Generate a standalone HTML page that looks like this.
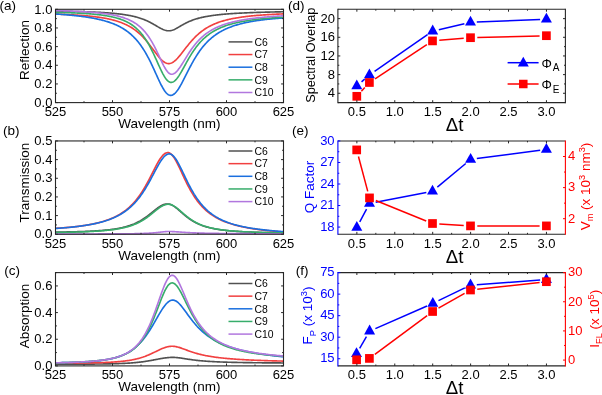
<!DOCTYPE html>
<html><head><meta charset="utf-8"><style>
html,body{margin:0;padding:0;background:#fff;}
svg{display:block;font-family:'Liberation Sans',sans-serif;will-change:transform;}
</style></head><body>
<svg width="602" height="395" viewBox="0 0 602 395" style="font-family:'Liberation Sans',sans-serif">
<rect width="602" height="395" fill="#fff"/>
<clipPath id="clipa"><rect x="55.5" y="8.3" width="228.0" height="95.3"/></clipPath>
<g clip-path="url(#clipa)" fill="none" stroke-width="1.65" stroke-linejoin="round">
<polyline points="55.50,11.12 56.26,11.13 57.03,11.15 57.79,11.16 58.55,11.17 59.31,11.18 60.08,11.19 60.84,11.21 61.60,11.22 62.36,11.23 63.13,11.25 63.89,11.26 64.65,11.27 65.41,11.29 66.18,11.30 66.94,11.32 67.70,11.33 68.46,11.35 69.23,11.36 69.99,11.38 70.75,11.39 71.51,11.41 72.28,11.43 73.04,11.45 73.80,11.46 74.56,11.48 75.33,11.50 76.09,11.52 76.85,11.54 77.61,11.56 78.38,11.58 79.14,11.60 79.90,11.62 80.66,11.64 81.43,11.66 82.19,11.69 82.95,11.71 83.71,11.73 84.48,11.76 85.24,11.78 86.00,11.81 86.76,11.83 87.53,11.86 88.29,11.89 89.05,11.92 89.81,11.94 90.58,11.97 91.34,12.00 92.10,12.04 92.86,12.07 93.63,12.10 94.39,12.13 95.15,12.17 95.91,12.20 96.68,12.24 97.44,12.28 98.20,12.31 98.96,12.35 99.73,12.39 100.49,12.43 101.25,12.48 102.02,12.52 102.78,12.57 103.54,12.61 104.30,12.66 105.07,12.71 105.83,12.76 106.59,12.81 107.35,12.86 108.12,12.92 108.88,12.98 109.64,13.03 110.40,13.10 111.17,13.16 111.93,13.22 112.69,13.29 113.45,13.36 114.22,13.43 114.98,13.50 115.74,13.58 116.50,13.65 117.27,13.73 118.03,13.82 118.79,13.90 119.55,13.99 120.32,14.08 121.08,14.18 121.84,14.28 122.60,14.38 123.37,14.49 124.13,14.60 124.89,14.71 125.65,14.83 126.42,14.95 127.18,15.08 127.94,15.21 128.70,15.35 129.47,15.49 130.23,15.64 130.99,15.79 131.75,15.95 132.52,16.12 133.28,16.29 134.04,16.47 134.80,16.65 135.57,16.85 136.33,17.05 137.09,17.26 137.85,17.48 138.62,17.70 139.38,17.94 140.14,18.18 140.90,18.44 141.67,18.70 142.43,18.98 143.19,19.26 143.95,19.56 144.72,19.86 145.48,20.18 146.24,20.51 147.01,20.86 147.77,21.21 148.53,21.58 149.29,21.95 150.06,22.34 150.82,22.74 151.58,23.15 152.34,23.57 153.11,24.00 153.87,24.43 154.63,24.87 155.39,25.32 156.16,25.77 156.92,26.22 157.68,26.66 158.44,27.11 159.21,27.54 159.97,27.96 160.73,28.37 161.49,28.76 162.26,29.12 163.02,29.46 163.78,29.77 164.54,30.04 165.31,30.28 166.07,30.47 166.83,30.62 167.59,30.73 168.36,30.79 169.12,30.80 169.88,30.75 170.64,30.65 171.41,30.49 172.17,30.29 172.93,30.03 173.69,29.73 174.46,29.40 175.22,29.04 175.98,28.64 176.74,28.23 177.51,27.80 178.27,27.36 179.03,26.91 179.79,26.46 180.56,26.01 181.32,25.57 182.08,25.13 182.84,24.69 183.61,24.27 184.37,23.85 185.13,23.45 185.89,23.06 186.66,22.68 187.42,22.31 188.18,21.95 188.94,21.61 189.71,21.28 190.47,20.96 191.23,20.66 191.99,20.36 192.76,20.08 193.52,19.81 194.28,19.54 195.05,19.29 195.81,19.05 196.57,18.82 197.33,18.59 198.10,18.38 198.86,18.17 199.62,17.97 200.38,17.78 201.15,17.60 201.91,17.42 202.67,17.25 203.43,17.08 204.20,16.93 204.96,16.77 205.72,16.63 206.48,16.48 207.25,16.35 208.01,16.21 208.77,16.09 209.53,15.96 210.30,15.84 211.06,15.73 211.82,15.62 212.58,15.51 213.35,15.40 214.11,15.30 214.87,15.20 215.63,15.11 216.40,15.02 217.16,14.93 217.92,14.84 218.68,14.76 219.45,14.67 220.21,14.60 220.97,14.52 221.73,14.44 222.50,14.37 223.26,14.30 224.02,14.23 224.78,14.17 225.55,14.10 226.31,14.04 227.07,13.98 227.83,13.92 228.60,13.86 229.36,13.80 230.12,13.75 230.88,13.69 231.65,13.64 232.41,13.59 233.17,13.54 233.93,13.49 234.70,13.44 235.46,13.39 236.22,13.35 236.98,13.30 237.75,13.26 238.51,13.22 239.27,13.18 240.04,13.14 240.80,13.10 241.56,13.06 242.32,13.02 243.09,12.98 243.85,12.95 244.61,12.91 245.37,12.88 246.14,12.84 246.90,12.81 247.66,12.78 248.42,12.74 249.19,12.71 249.95,12.68 250.71,12.65 251.47,12.62 252.24,12.59 253.00,12.57 253.76,12.54 254.52,12.51 255.29,12.48 256.05,12.46 256.81,12.43 257.57,12.41 258.34,12.38 259.10,12.36 259.86,12.33 260.62,12.31 261.39,12.29 262.15,12.26 262.91,12.24 263.67,12.22 264.44,12.20 265.20,12.18 265.96,12.16 266.72,12.14 267.49,12.12 268.25,12.10 269.01,12.08 269.77,12.06 270.54,12.04 271.30,12.02 272.06,12.00 272.82,11.98 273.59,11.97 274.35,11.95 275.11,11.93 275.87,11.92 276.64,11.90 277.40,11.88 278.16,11.87 278.92,11.85 279.69,11.84 280.45,11.82 281.21,11.80 281.97,11.79 282.74,11.78 283.50,11.76" stroke="#515151"/>
<polyline points="55.50,14.08 56.26,14.11 57.03,14.13 57.79,14.16 58.55,14.19 59.31,14.22 60.08,14.25 60.84,14.28 61.60,14.31 62.36,14.34 63.13,14.37 63.89,14.40 64.65,14.44 65.41,14.47 66.18,14.51 66.94,14.54 67.70,14.58 68.46,14.62 69.23,14.66 69.99,14.70 70.75,14.74 71.51,14.78 72.28,14.82 73.04,14.86 73.80,14.91 74.56,14.95 75.33,15.00 76.09,15.05 76.85,15.10 77.61,15.15 78.38,15.20 79.14,15.25 79.90,15.31 80.66,15.36 81.43,15.42 82.19,15.48 82.95,15.54 83.71,15.60 84.48,15.66 85.24,15.73 86.00,15.80 86.76,15.86 87.53,15.94 88.29,16.01 89.05,16.08 89.81,16.16 90.58,16.24 91.34,16.32 92.10,16.40 92.86,16.49 93.63,16.58 94.39,16.67 95.15,16.76 95.91,16.86 96.68,16.96 97.44,17.06 98.20,17.17 98.96,17.27 99.73,17.39 100.49,17.50 101.25,17.62 102.02,17.74 102.78,17.87 103.54,18.00 104.30,18.13 105.07,18.27 105.83,18.42 106.59,18.56 107.35,18.72 108.12,18.87 108.88,19.04 109.64,19.21 110.40,19.38 111.17,19.56 111.93,19.75 112.69,19.94 113.45,20.14 114.22,20.34 114.98,20.56 115.74,20.78 116.50,21.01 117.27,21.24 118.03,21.49 118.79,21.74 119.55,22.00 120.32,22.27 121.08,22.56 121.84,22.85 122.60,23.15 123.37,23.47 124.13,23.79 124.89,24.13 125.65,24.48 126.42,24.84 127.18,25.22 127.94,25.61 128.70,26.02 129.47,26.44 130.23,26.87 130.99,27.33 131.75,27.80 132.52,28.29 133.28,28.79 134.04,29.32 134.80,29.86 135.57,30.42 136.33,31.01 137.09,31.61 137.85,32.24 138.62,32.89 139.38,33.56 140.14,34.26 140.90,34.98 141.67,35.72 142.43,36.49 143.19,37.28 143.95,38.09 144.72,38.93 145.48,39.79 146.24,40.68 147.01,41.58 147.77,42.51 148.53,43.46 149.29,44.43 150.06,45.41 150.82,46.41 151.58,47.42 152.34,48.44 153.11,49.47 153.87,50.49 154.63,51.52 155.39,52.54 156.16,53.55 156.92,54.55 157.68,55.52 158.44,56.47 159.21,57.38 159.97,58.25 160.73,59.08 161.49,59.85 162.26,60.57 163.02,61.22 163.78,61.80 164.54,62.31 165.31,62.74 166.07,63.08 166.83,63.34 167.59,63.50 168.36,63.58 169.12,63.56 169.88,63.46 170.64,63.27 171.41,63.00 172.17,62.64 172.93,62.21 173.69,61.71 174.46,61.14 175.22,60.50 175.98,59.80 176.74,59.05 177.51,58.25 178.27,57.41 179.03,56.53 179.79,55.62 180.56,54.69 181.32,53.73 182.08,52.76 182.84,51.78 183.61,50.79 184.37,49.80 185.13,48.81 185.89,47.83 186.66,46.86 187.42,45.89 188.18,44.94 188.94,44.00 189.71,43.08 190.47,42.18 191.23,41.30 191.99,40.43 192.76,39.59 193.52,38.77 194.28,37.97 195.05,37.19 195.81,36.44 196.57,35.71 197.33,35.00 198.10,34.31 198.86,33.64 199.62,32.99 200.38,32.37 201.15,31.77 201.91,31.18 202.67,30.62 203.43,30.07 204.20,29.54 204.96,29.03 205.72,28.54 206.48,28.07 207.25,27.61 208.01,27.16 208.77,26.73 209.53,26.32 210.30,25.92 211.06,25.54 211.82,25.16 212.58,24.80 213.35,24.46 214.11,24.12 214.87,23.80 215.63,23.48 216.40,23.18 217.16,22.89 217.92,22.60 218.68,22.33 219.45,22.07 220.21,21.81 220.97,21.56 221.73,21.32 222.50,21.09 223.26,20.87 224.02,20.65 224.78,20.44 225.55,20.23 226.31,20.04 227.07,19.85 227.83,19.66 228.60,19.48 229.36,19.31 230.12,19.14 230.88,18.97 231.65,18.81 232.41,18.66 233.17,18.51 233.93,18.37 234.70,18.22 235.46,18.09 236.22,17.95 236.98,17.82 237.75,17.70 238.51,17.58 239.27,17.46 240.04,17.34 240.80,17.23 241.56,17.12 242.32,17.01 243.09,16.91 243.85,16.81 244.61,16.71 245.37,16.62 246.14,16.52 246.90,16.43 247.66,16.35 248.42,16.26 249.19,16.18 249.95,16.09 250.71,16.01 251.47,15.94 252.24,15.86 253.00,15.79 253.76,15.72 254.52,15.64 255.29,15.58 256.05,15.51 256.81,15.44 257.57,15.38 258.34,15.32 259.10,15.26 259.86,15.20 260.62,15.14 261.39,15.08 262.15,15.03 262.91,14.97 263.67,14.92 264.44,14.87 265.20,14.82 265.96,14.77 266.72,14.72 267.49,14.67 268.25,14.62 269.01,14.58 269.77,14.53 270.54,14.49 271.30,14.45 272.06,14.40 272.82,14.36 273.59,14.32 274.35,14.28 275.11,14.24 275.87,14.21 276.64,14.17 277.40,14.13 278.16,14.10 278.92,14.06 279.69,14.03 280.45,13.99 281.21,13.96 281.97,13.93 282.74,13.90 283.50,13.87" stroke="#F14040"/>
<polyline points="55.50,13.98 56.26,14.03 57.03,14.08 57.79,14.13 58.55,14.19 59.31,14.24 60.08,14.30 60.84,14.36 61.60,14.41 62.36,14.47 63.13,14.53 63.89,14.59 64.65,14.66 65.41,14.72 66.18,14.78 66.94,14.85 67.70,14.92 68.46,14.99 69.23,15.06 69.99,15.13 70.75,15.20 71.51,15.27 72.28,15.35 73.04,15.43 73.80,15.51 74.56,15.59 75.33,15.67 76.09,15.75 76.85,15.84 77.61,15.92 78.38,16.01 79.14,16.11 79.90,16.20 80.66,16.29 81.43,16.39 82.19,16.49 82.95,16.59 83.71,16.70 84.48,16.80 85.24,16.91 86.00,17.02 86.76,17.14 87.53,17.26 88.29,17.38 89.05,17.50 89.81,17.62 90.58,17.75 91.34,17.89 92.10,18.02 92.86,18.16 93.63,18.30 94.39,18.45 95.15,18.60 95.91,18.75 96.68,18.91 97.44,19.08 98.20,19.24 98.96,19.41 99.73,19.59 100.49,19.77 101.25,19.96 102.02,20.15 102.78,20.35 103.54,20.55 104.30,20.76 105.07,20.97 105.83,21.19 106.59,21.42 107.35,21.66 108.12,21.90 108.88,22.15 109.64,22.40 110.40,22.67 111.17,22.94 111.93,23.22 112.69,23.51 113.45,23.81 114.22,24.12 114.98,24.44 115.74,24.77 116.50,25.12 117.27,25.47 118.03,25.83 118.79,26.21 119.55,26.60 120.32,27.00 121.08,27.42 121.84,27.85 122.60,28.30 123.37,28.76 124.13,29.24 124.89,29.73 125.65,30.25 126.42,30.78 127.18,31.33 127.94,31.90 128.70,32.49 129.47,33.11 130.23,33.74 130.99,34.40 131.75,35.09 132.52,35.80 133.28,36.53 134.04,37.30 134.80,38.09 135.57,38.91 136.33,39.76 137.09,40.64 137.85,41.55 138.62,42.50 139.38,43.48 140.14,44.50 140.90,45.56 141.67,46.65 142.43,47.77 143.19,48.94 143.95,50.15 144.72,51.39 145.48,52.68 146.24,54.00 147.01,55.36 147.77,56.77 148.53,58.21 149.29,59.68 150.06,61.20 150.82,62.74 151.58,64.32 152.34,65.93 153.11,67.56 153.87,69.21 154.63,70.88 155.39,72.56 156.16,74.24 156.92,75.93 157.68,77.60 158.44,79.25 159.21,80.88 159.97,82.48 160.73,84.02 161.49,85.51 162.26,86.94 163.02,88.29 163.78,89.55 164.54,90.71 165.31,91.76 166.07,92.70 166.83,93.50 167.59,94.17 168.36,94.70 169.12,95.08 169.88,95.31 170.64,95.39 171.41,95.32 172.17,95.12 172.93,94.79 173.69,94.33 174.46,93.74 175.22,93.04 175.98,92.23 176.74,91.31 177.51,90.29 178.27,89.19 179.03,88.00 179.79,86.75 180.56,85.43 181.32,84.06 182.08,82.65 182.84,81.20 183.61,79.72 184.37,78.23 185.13,76.72 185.89,75.20 186.66,73.68 187.42,72.17 188.18,70.66 188.94,69.17 189.71,67.70 190.47,66.25 191.23,64.82 191.99,63.42 192.76,62.04 193.52,60.69 194.28,59.38 195.05,58.10 195.81,56.84 196.57,55.63 197.33,54.44 198.10,53.29 198.86,52.17 199.62,51.08 200.38,50.03 201.15,49.01 201.91,48.02 202.67,47.06 203.43,46.13 204.20,45.24 204.96,44.37 205.72,43.53 206.48,42.71 207.25,41.93 208.01,41.16 208.77,40.43 209.53,39.72 210.30,39.03 211.06,38.36 211.82,37.72 212.58,37.10 213.35,36.49 214.11,35.91 214.87,35.35 215.63,34.80 216.40,34.27 217.16,33.76 217.92,33.27 218.68,32.79 219.45,32.33 220.21,31.88 220.97,31.45 221.73,31.03 222.50,30.62 223.26,30.23 224.02,29.85 224.78,29.48 225.55,29.12 226.31,28.77 227.07,28.43 227.83,28.11 228.60,27.79 229.36,27.48 230.12,27.19 230.88,26.90 231.65,26.62 232.41,26.34 233.17,26.08 233.93,25.82 234.70,25.57 235.46,25.33 236.22,25.09 236.98,24.86 237.75,24.64 238.51,24.43 239.27,24.21 240.04,24.01 240.80,23.81 241.56,23.62 242.32,23.43 243.09,23.25 243.85,23.07 244.61,22.89 245.37,22.72 246.14,22.56 246.90,22.40 247.66,22.24 248.42,22.09 249.19,21.94 249.95,21.80 250.71,21.66 251.47,21.52 252.24,21.39 253.00,21.26 253.76,21.13 254.52,21.01 255.29,20.88 256.05,20.77 256.81,20.65 257.57,20.54 258.34,20.43 259.10,20.32 259.86,20.22 260.62,20.12 261.39,20.02 262.15,19.92 262.91,19.82 263.67,19.73 264.44,19.64 265.20,19.55 265.96,19.46 266.72,19.38 267.49,19.30 268.25,19.22 269.01,19.14 269.77,19.06 270.54,18.99 271.30,18.91 272.06,18.84 272.82,18.77 273.59,18.70 274.35,18.63 275.11,18.57 275.87,18.50 276.64,18.44 277.40,18.38 278.16,18.32 278.92,18.26 279.69,18.20 280.45,18.14 281.21,18.09 281.97,18.03 282.74,17.98 283.50,17.93" stroke="#1A6FDF"/>
<polyline points="55.50,12.29 56.26,12.31 57.03,12.33 57.79,12.35 58.55,12.37 59.31,12.39 60.08,12.41 60.84,12.44 61.60,12.46 62.36,12.48 63.13,12.51 63.89,12.53 64.65,12.56 65.41,12.58 66.18,12.61 66.94,12.64 67.70,12.66 68.46,12.69 69.23,12.72 69.99,12.75 70.75,12.78 71.51,12.81 72.28,12.84 73.04,12.87 73.80,12.91 74.56,12.94 75.33,12.98 76.09,13.01 76.85,13.05 77.61,13.09 78.38,13.13 79.14,13.17 79.90,13.21 80.66,13.25 81.43,13.29 82.19,13.34 82.95,13.38 83.71,13.43 84.48,13.48 85.24,13.53 86.00,13.58 86.76,13.63 87.53,13.68 88.29,13.74 89.05,13.80 89.81,13.86 90.58,13.92 91.34,13.98 92.10,14.05 92.86,14.11 93.63,14.18 94.39,14.25 95.15,14.33 95.91,14.41 96.68,14.48 97.44,14.57 98.20,14.65 98.96,14.74 99.73,14.83 100.49,14.92 101.25,15.02 102.02,15.12 102.78,15.22 103.54,15.33 104.30,15.44 105.07,15.56 105.83,15.68 106.59,15.81 107.35,15.94 108.12,16.07 108.88,16.21 109.64,16.36 110.40,16.51 111.17,16.67 111.93,16.83 112.69,17.00 113.45,17.18 114.22,17.36 114.98,17.55 115.74,17.75 116.50,17.96 117.27,18.18 118.03,18.41 118.79,18.64 119.55,18.89 120.32,19.15 121.08,19.42 121.84,19.70 122.60,19.99 123.37,20.30 124.13,20.62 124.89,20.95 125.65,21.30 126.42,21.67 127.18,22.05 127.94,22.46 128.70,22.87 129.47,23.31 130.23,23.77 130.99,24.25 131.75,24.76 132.52,25.29 133.28,25.84 134.04,26.42 134.80,27.02 135.57,27.66 136.33,28.32 137.09,29.02 137.85,29.75 138.62,30.51 139.38,31.31 140.14,32.14 140.90,33.01 141.67,33.93 142.43,34.88 143.19,35.87 143.95,36.91 144.72,37.99 145.48,39.12 146.24,40.29 147.01,41.51 147.77,42.78 148.53,44.09 149.29,45.45 150.06,46.85 150.82,48.30 151.58,49.79 152.34,51.32 153.11,52.89 153.87,54.50 154.63,56.13 155.39,57.79 156.16,59.46 156.92,61.15 157.68,62.85 158.44,64.54 159.21,66.22 159.97,67.88 160.73,69.50 161.49,71.08 162.26,72.60 163.02,74.06 163.78,75.44 164.54,76.72 165.31,77.90 166.07,78.96 166.83,79.90 167.59,80.70 168.36,81.35 169.12,81.86 169.88,82.20 170.64,82.39 171.41,82.41 172.17,82.29 172.93,82.03 173.69,81.63 174.46,81.10 175.22,80.44 175.98,79.67 176.74,78.80 177.51,77.82 178.27,76.76 179.03,75.62 179.79,74.41 180.56,73.15 181.32,71.85 182.08,70.51 182.84,69.14 183.61,67.76 184.37,66.37 185.13,64.98 185.89,63.59 186.66,62.21 187.42,60.84 188.18,59.50 188.94,58.18 189.71,56.88 190.47,55.61 191.23,54.37 191.99,53.17 192.76,51.99 193.52,50.85 194.28,49.74 195.05,48.66 195.81,47.62 196.57,46.62 197.33,45.64 198.10,44.70 198.86,43.79 199.62,42.91 200.38,42.06 201.15,41.24 201.91,40.45 202.67,39.69 203.43,38.95 204.20,38.24 204.96,37.56 205.72,36.90 206.48,36.26 207.25,35.65 208.01,35.06 208.77,34.48 209.53,33.93 210.30,33.40 211.06,32.89 211.82,32.39 212.58,31.91 213.35,31.45 214.11,31.01 214.87,30.57 215.63,30.16 216.40,29.76 217.16,29.37 217.92,28.99 218.68,28.63 219.45,28.27 220.21,27.93 220.97,27.60 221.73,27.29 222.50,26.98 223.26,26.68 224.02,26.39 224.78,26.11 225.55,25.84 226.31,25.57 227.07,25.32 227.83,25.07 228.60,24.83 229.36,24.59 230.12,24.37 230.88,24.15 231.65,23.93 232.41,23.73 233.17,23.52 233.93,23.33 234.70,23.14 235.46,22.95 236.22,22.77 236.98,22.60 237.75,22.43 238.51,22.26 239.27,22.10 240.04,21.95 240.80,21.79 241.56,21.64 242.32,21.50 243.09,21.36 243.85,21.22 244.61,21.09 245.37,20.96 246.14,20.83 246.90,20.71 247.66,20.59 248.42,20.47 249.19,20.35 249.95,20.24 250.71,20.13 251.47,20.03 252.24,19.92 253.00,19.82 253.76,19.72 254.52,19.62 255.29,19.53 256.05,19.44 256.81,19.35 257.57,19.26 258.34,19.17 259.10,19.09 259.86,19.01 260.62,18.92 261.39,18.85 262.15,18.77 262.91,18.69 263.67,18.62 264.44,18.55 265.20,18.48 265.96,18.41 266.72,18.34 267.49,18.28 268.25,18.21 269.01,18.15 269.77,18.09 270.54,18.02 271.30,17.97 272.06,17.91 272.82,17.85 273.59,17.79 274.35,17.74 275.11,17.69 275.87,17.63 276.64,17.58 277.40,17.53 278.16,17.48 278.92,17.43 279.69,17.39 280.45,17.34 281.21,17.29 281.97,17.25 282.74,17.21 283.50,17.16" stroke="#37AD6B"/>
<polyline points="55.50,10.55 56.26,10.57 57.03,10.59 57.79,10.61 58.55,10.64 59.31,10.66 60.08,10.68 60.84,10.71 61.60,10.73 62.36,10.76 63.13,10.79 63.89,10.81 64.65,10.84 65.41,10.87 66.18,10.89 66.94,10.92 67.70,10.95 68.46,10.98 69.23,11.01 69.99,11.04 70.75,11.07 71.51,11.11 72.28,11.14 73.04,11.17 73.80,11.21 74.56,11.24 75.33,11.28 76.09,11.31 76.85,11.35 77.61,11.39 78.38,11.43 79.14,11.47 79.90,11.51 80.66,11.55 81.43,11.59 82.19,11.64 82.95,11.68 83.71,11.73 84.48,11.78 85.24,11.83 86.00,11.88 86.76,11.93 87.53,11.98 88.29,12.03 89.05,12.09 89.81,12.14 90.58,12.20 91.34,12.26 92.10,12.32 92.86,12.39 93.63,12.45 94.39,12.52 95.15,12.59 95.91,12.66 96.68,12.73 97.44,12.81 98.20,12.88 98.96,12.96 99.73,13.04 100.49,13.13 101.25,13.22 102.02,13.31 102.78,13.40 103.54,13.50 104.30,13.59 105.07,13.70 105.83,13.80 106.59,13.91 107.35,14.02 108.12,14.14 108.88,14.26 109.64,14.39 110.40,14.51 111.17,14.65 111.93,14.79 112.69,14.93 113.45,15.08 114.22,15.23 114.98,15.39 115.74,15.56 116.50,15.73 117.27,15.91 118.03,16.10 118.79,16.29 119.55,16.50 120.32,16.70 121.08,16.92 121.84,17.15 122.60,17.39 123.37,17.63 124.13,17.89 124.89,18.16 125.65,18.43 126.42,18.73 127.18,19.03 127.94,19.35 128.70,19.68 129.47,20.02 130.23,20.38 130.99,20.76 131.75,21.16 132.52,21.57 133.28,22.00 134.04,22.45 134.80,22.93 135.57,23.42 136.33,23.94 137.09,24.48 137.85,25.05 138.62,25.65 139.38,26.28 140.14,26.93 140.90,27.62 141.67,28.34 142.43,29.09 143.19,29.88 143.95,30.71 144.72,31.58 145.48,32.48 146.24,33.43 147.01,34.42 147.77,35.46 148.53,36.54 149.29,37.67 150.06,38.85 150.82,40.08 151.58,41.35 152.34,42.67 153.11,44.04 153.87,45.45 154.63,46.91 155.39,48.41 156.16,49.94 156.92,51.51 157.68,53.11 158.44,54.72 159.21,56.35 159.97,57.98 160.73,59.61 161.49,61.22 162.26,62.80 163.02,64.33 163.78,65.81 164.54,67.21 165.31,68.53 166.07,69.74 166.83,70.83 167.59,71.80 168.36,72.61 169.12,73.27 169.88,73.77 170.64,74.09 171.41,74.23 172.17,74.20 172.93,74.04 173.69,73.75 174.46,73.34 175.22,72.80 175.98,72.15 176.74,71.40 177.51,70.55 178.27,69.62 179.03,68.61 179.79,67.54 180.56,66.42 181.32,65.25 182.08,64.05 182.84,62.83 183.61,61.59 184.37,60.34 185.13,59.09 185.89,57.84 186.66,56.61 187.42,55.38 188.18,54.18 188.94,52.99 189.71,51.83 190.47,50.70 191.23,49.59 191.99,48.51 192.76,47.46 193.52,46.45 194.28,45.46 195.05,44.50 195.81,43.57 196.57,42.67 197.33,41.81 198.10,40.97 198.86,40.16 199.62,39.37 200.38,38.62 201.15,37.89 201.91,37.18 202.67,36.51 203.43,35.85 204.20,35.22 204.96,34.61 205.72,34.02 206.48,33.45 207.25,32.90 208.01,32.37 208.77,31.86 209.53,31.36 210.30,30.89 211.06,30.43 211.82,29.98 212.58,29.55 213.35,29.13 214.11,28.73 214.87,28.34 215.63,27.97 216.40,27.60 217.16,27.25 217.92,26.91 218.68,26.58 219.45,26.26 220.21,25.95 220.97,25.65 221.73,25.36 222.50,25.08 223.26,24.80 224.02,24.54 224.78,24.28 225.55,24.03 226.31,23.79 227.07,23.55 227.83,23.32 228.60,23.10 229.36,22.89 230.12,22.68 230.88,22.47 231.65,22.27 232.41,22.08 233.17,21.89 233.93,21.71 234.70,21.53 235.46,21.36 236.22,21.19 236.98,21.03 237.75,20.87 238.51,20.71 239.27,20.56 240.04,20.42 240.80,20.27 241.56,20.13 242.32,19.99 243.09,19.86 243.85,19.73 244.61,19.60 245.37,19.48 246.14,19.36 246.90,19.24 247.66,19.13 248.42,19.01 249.19,18.90 249.95,18.80 250.71,18.69 251.47,18.59 252.24,18.49 253.00,18.39 253.76,18.30 254.52,18.20 255.29,18.11 256.05,18.02 256.81,17.93 257.57,17.85 258.34,17.76 259.10,17.68 259.86,17.60 260.62,17.52 261.39,17.45 262.15,17.37 262.91,17.30 263.67,17.22 264.44,17.15 265.20,17.08 265.96,17.02 266.72,16.95 267.49,16.89 268.25,16.82 269.01,16.76 269.77,16.70 270.54,16.64 271.30,16.58 272.06,16.52 272.82,16.46 273.59,16.41 274.35,16.35 275.11,16.30 275.87,16.25 276.64,16.20 277.40,16.15 278.16,16.10 278.92,16.05 279.69,16.00 280.45,15.95 281.21,15.91 281.97,15.86 282.74,15.82 283.50,15.77" stroke="#B177DE"/>
</g>
<rect x="55.5" y="9.3" width="228.0" height="93.3" fill="none" stroke="#262626" stroke-width="1.1"/>
<line x1="55.5" y1="102.6" x2="55.5" y2="100.2" stroke="#262626" stroke-width="1.0"/>
<line x1="55.5" y1="9.3" x2="55.5" y2="11.7" stroke="#262626" stroke-width="1.0"/>
<line x1="112.5" y1="102.6" x2="112.5" y2="100.2" stroke="#262626" stroke-width="1.0"/>
<line x1="112.5" y1="9.3" x2="112.5" y2="11.7" stroke="#262626" stroke-width="1.0"/>
<line x1="169.5" y1="102.6" x2="169.5" y2="100.2" stroke="#262626" stroke-width="1.0"/>
<line x1="169.5" y1="9.3" x2="169.5" y2="11.7" stroke="#262626" stroke-width="1.0"/>
<line x1="226.5" y1="102.6" x2="226.5" y2="100.2" stroke="#262626" stroke-width="1.0"/>
<line x1="226.5" y1="9.3" x2="226.5" y2="11.7" stroke="#262626" stroke-width="1.0"/>
<line x1="283.5" y1="102.6" x2="283.5" y2="100.2" stroke="#262626" stroke-width="1.0"/>
<line x1="283.5" y1="9.3" x2="283.5" y2="11.7" stroke="#262626" stroke-width="1.0"/>
<line x1="84" y1="102.6" x2="84" y2="101.2" stroke="#262626" stroke-width="1.0"/>
<line x1="84" y1="9.3" x2="84" y2="10.7" stroke="#262626" stroke-width="1.0"/>
<line x1="141" y1="102.6" x2="141" y2="101.2" stroke="#262626" stroke-width="1.0"/>
<line x1="141" y1="9.3" x2="141" y2="10.7" stroke="#262626" stroke-width="1.0"/>
<line x1="198" y1="102.6" x2="198" y2="101.2" stroke="#262626" stroke-width="1.0"/>
<line x1="198" y1="9.3" x2="198" y2="10.7" stroke="#262626" stroke-width="1.0"/>
<line x1="255" y1="102.6" x2="255" y2="101.2" stroke="#262626" stroke-width="1.0"/>
<line x1="255" y1="9.3" x2="255" y2="10.7" stroke="#262626" stroke-width="1.0"/>
<line x1="55.5" y1="102.6" x2="57.9" y2="102.6" stroke="#262626" stroke-width="1.0"/>
<line x1="55.5" y1="83.94" x2="57.9" y2="83.94" stroke="#262626" stroke-width="1.0"/>
<line x1="55.5" y1="65.28" x2="57.9" y2="65.28" stroke="#262626" stroke-width="1.0"/>
<line x1="55.5" y1="46.62" x2="57.9" y2="46.62" stroke="#262626" stroke-width="1.0"/>
<line x1="55.5" y1="27.96" x2="57.9" y2="27.96" stroke="#262626" stroke-width="1.0"/>
<line x1="55.5" y1="9.3" x2="57.9" y2="9.3" stroke="#262626" stroke-width="1.0"/>
<line x1="55.5" y1="93.27" x2="56.9" y2="93.27" stroke="#262626" stroke-width="1.0"/>
<line x1="55.5" y1="74.61" x2="56.9" y2="74.61" stroke="#262626" stroke-width="1.0"/>
<line x1="55.5" y1="55.95" x2="56.9" y2="55.95" stroke="#262626" stroke-width="1.0"/>
<line x1="55.5" y1="37.29" x2="56.9" y2="37.29" stroke="#262626" stroke-width="1.0"/>
<line x1="55.5" y1="18.63" x2="56.9" y2="18.63" stroke="#262626" stroke-width="1.0"/>
<line x1="283.5" y1="102.6" x2="281.1" y2="102.6" stroke="#262626" stroke-width="1.0"/>
<line x1="283.5" y1="83.94" x2="281.1" y2="83.94" stroke="#262626" stroke-width="1.0"/>
<line x1="283.5" y1="65.28" x2="281.1" y2="65.28" stroke="#262626" stroke-width="1.0"/>
<line x1="283.5" y1="46.62" x2="281.1" y2="46.62" stroke="#262626" stroke-width="1.0"/>
<line x1="283.5" y1="27.96" x2="281.1" y2="27.96" stroke="#262626" stroke-width="1.0"/>
<line x1="283.5" y1="9.3" x2="281.1" y2="9.3" stroke="#262626" stroke-width="1.0"/>
<line x1="283.5" y1="93.27" x2="282.1" y2="93.27" stroke="#262626" stroke-width="1.0"/>
<line x1="283.5" y1="74.61" x2="282.1" y2="74.61" stroke="#262626" stroke-width="1.0"/>
<line x1="283.5" y1="55.95" x2="282.1" y2="55.95" stroke="#262626" stroke-width="1.0"/>
<line x1="283.5" y1="37.29" x2="282.1" y2="37.29" stroke="#262626" stroke-width="1.0"/>
<line x1="283.5" y1="18.63" x2="282.1" y2="18.63" stroke="#262626" stroke-width="1.0"/>
<text x="52.4" y="106.8" font-size="13" text-anchor="end" fill="#000" >0.0</text>
<text x="52.4" y="88.14" font-size="13" text-anchor="end" fill="#000" >0.2</text>
<text x="52.4" y="69.48" font-size="13" text-anchor="end" fill="#000" >0.4</text>
<text x="52.4" y="50.82" font-size="13" text-anchor="end" fill="#000" >0.6</text>
<text x="52.4" y="32.16" font-size="13" text-anchor="end" fill="#000" >0.8</text>
<text x="52.4" y="13.5" font-size="13" text-anchor="end" fill="#000" >1.0</text>
<text x="55.5" y="116.1" font-size="13" text-anchor="middle" fill="#000" >525</text>
<text x="112.5" y="116.1" font-size="13" text-anchor="middle" fill="#000" >550</text>
<text x="169.5" y="116.1" font-size="13" text-anchor="middle" fill="#000" >575</text>
<text x="226.5" y="116.1" font-size="13" text-anchor="middle" fill="#000" >600</text>
<text x="283.5" y="116.1" font-size="13" text-anchor="middle" fill="#000" >625</text>
<text x="169.4" y="128.1" font-size="13.5" text-anchor="middle" fill="#000" >Wavelength (nm)</text>
<text x="29" y="50.1" font-size="13.5" text-anchor="middle" fill="#000" transform="rotate(-90 29.0 50.1)">Reflection</text>
<text x="-0.4" y="9.8" font-size="13.5" text-anchor="start" fill="#000" >(a)</text>
<line x1="228.5" y1="41.9" x2="252.4" y2="41.9" stroke="#515151" stroke-width="1.5"/>
<text x="254.4" y="45.6" font-size="10.4" text-anchor="start" fill="#000" >C6</text>
<line x1="228.5" y1="54.55" x2="252.4" y2="54.55" stroke="#F14040" stroke-width="1.5"/>
<text x="254.4" y="58.25" font-size="10.4" text-anchor="start" fill="#000" >C7</text>
<line x1="228.5" y1="67.2" x2="252.4" y2="67.2" stroke="#1A6FDF" stroke-width="1.5"/>
<text x="254.4" y="70.9" font-size="10.4" text-anchor="start" fill="#000" >C8</text>
<line x1="228.5" y1="79.85" x2="252.4" y2="79.85" stroke="#37AD6B" stroke-width="1.5"/>
<text x="254.4" y="83.55" font-size="10.4" text-anchor="start" fill="#000" >C9</text>
<line x1="228.5" y1="92.5" x2="252.4" y2="92.5" stroke="#B177DE" stroke-width="1.5"/>
<text x="254.4" y="96.2" font-size="10.4" text-anchor="start" fill="#000" >C10</text>
<clipPath id="clipb"><rect x="55.5" y="139.95" width="228.0" height="95.30000000000001"/></clipPath>
<g clip-path="url(#clipb)" fill="none" stroke-width="1.65" stroke-linejoin="round">
<polyline points="55.50,232.10 56.26,232.09 57.03,232.08 57.79,232.07 58.55,232.06 59.31,232.05 60.08,232.04 60.84,232.03 61.60,232.02 62.36,232.01 63.13,232.00 63.89,231.98 64.65,231.97 65.41,231.96 66.18,231.95 66.94,231.93 67.70,231.92 68.46,231.90 69.23,231.89 69.99,231.87 70.75,231.86 71.51,231.84 72.28,231.82 73.04,231.80 73.80,231.79 74.56,231.77 75.33,231.75 76.09,231.73 76.85,231.71 77.61,231.69 78.38,231.66 79.14,231.64 79.90,231.62 80.66,231.59 81.43,231.57 82.19,231.54 82.95,231.51 83.71,231.49 84.48,231.46 85.24,231.43 86.00,231.40 86.76,231.37 87.53,231.34 88.29,231.30 89.05,231.27 89.81,231.23 90.58,231.19 91.34,231.16 92.10,231.12 92.86,231.08 93.63,231.03 94.39,230.99 95.15,230.94 95.91,230.90 96.68,230.85 97.44,230.80 98.20,230.75 98.96,230.69 99.73,230.64 100.49,230.58 101.25,230.52 102.02,230.46 102.78,230.39 103.54,230.33 104.30,230.26 105.07,230.19 105.83,230.11 106.59,230.04 107.35,229.96 108.12,229.87 108.88,229.79 109.64,229.70 110.40,229.61 111.17,229.51 111.93,229.41 112.69,229.31 113.45,229.20 114.22,229.09 114.98,228.97 115.74,228.85 116.50,228.72 117.27,228.59 118.03,228.46 118.79,228.31 119.55,228.17 120.32,228.01 121.08,227.85 121.84,227.69 122.60,227.52 123.37,227.34 124.13,227.15 124.89,226.95 125.65,226.75 126.42,226.54 127.18,226.32 127.94,226.09 128.70,225.85 129.47,225.60 130.23,225.35 130.99,225.08 131.75,224.80 132.52,224.50 133.28,224.20 134.04,223.89 134.80,223.56 135.57,223.22 136.33,222.86 137.09,222.49 137.85,222.11 138.62,221.71 139.38,221.30 140.14,220.88 140.90,220.43 141.67,219.98 142.43,219.51 143.19,219.02 143.95,218.52 144.72,218.00 145.48,217.47 146.24,216.92 147.01,216.36 147.77,215.79 148.53,215.21 149.29,214.62 150.06,214.02 150.82,213.41 151.58,212.79 152.34,212.17 153.11,211.56 153.87,210.94 154.63,210.33 155.39,209.72 156.16,209.13 156.92,208.55 157.68,207.99 158.44,207.45 159.21,206.93 159.97,206.45 160.73,206.00 161.49,205.58 162.26,205.21 163.02,204.88 163.78,204.60 164.54,204.36 165.31,204.18 166.07,204.05 166.83,203.98 167.59,203.96 168.36,204.01 169.12,204.12 169.88,204.30 170.64,204.54 171.41,204.85 172.17,205.21 172.93,205.62 173.69,206.09 174.46,206.59 175.22,207.14 175.98,207.72 176.74,208.32 177.51,208.95 178.27,209.60 179.03,210.26 179.79,210.92 180.56,211.60 181.32,212.27 182.08,212.94 182.84,213.61 183.61,214.26 184.37,214.91 185.13,215.55 185.89,216.17 186.66,216.78 187.42,217.37 188.18,217.94 188.94,218.50 189.71,219.03 190.47,219.56 191.23,220.06 191.99,220.54 192.76,221.01 193.52,221.46 194.28,221.90 195.05,222.31 195.81,222.71 196.57,223.10 197.33,223.47 198.10,223.82 198.86,224.16 199.62,224.49 200.38,224.80 201.15,225.10 201.91,225.39 202.67,225.66 203.43,225.93 204.20,226.18 204.96,226.43 205.72,226.66 206.48,226.88 207.25,227.10 208.01,227.30 208.77,227.50 209.53,227.69 210.30,227.88 211.06,228.05 211.82,228.22 212.58,228.38 213.35,228.54 214.11,228.69 214.87,228.83 215.63,228.97 216.40,229.11 217.16,229.23 217.92,229.36 218.68,229.48 219.45,229.59 220.21,229.70 220.97,229.81 221.73,229.91 222.50,230.01 223.26,230.11 224.02,230.20 224.78,230.29 225.55,230.38 226.31,230.46 227.07,230.54 227.83,230.62 228.60,230.70 229.36,230.77 230.12,230.84 230.88,230.91 231.65,230.98 232.41,231.04 233.17,231.10 233.93,231.16 234.70,231.22 235.46,231.28 236.22,231.33 236.98,231.39 237.75,231.44 238.51,231.49 239.27,231.54 240.04,231.59 240.80,231.63 241.56,231.68 242.32,231.72 243.09,231.76 243.85,231.81 244.61,231.85 245.37,231.89 246.14,231.92 246.90,231.96 247.66,232.00 248.42,232.03 249.19,232.07 249.95,232.10 250.71,232.13 251.47,232.17 252.24,232.20 253.00,232.23 253.76,232.26 254.52,232.29 255.29,232.31 256.05,232.34 256.81,232.37 257.57,232.39 258.34,232.42 259.10,232.45 259.86,232.47 260.62,232.49 261.39,232.52 262.15,232.54 262.91,232.56 263.67,232.59 264.44,232.61 265.20,232.63 265.96,232.65 266.72,232.67 267.49,232.69 268.25,232.71 269.01,232.73 269.77,232.75 270.54,232.77 271.30,232.78 272.06,232.80 272.82,232.82 273.59,232.84 274.35,232.85 275.11,232.87 275.87,232.89 276.64,232.90 277.40,232.92 278.16,232.93 278.92,232.95 279.69,232.96 280.45,232.98 281.21,232.99 281.97,233.01 282.74,233.02 283.50,233.03" stroke="#515151"/>
<polyline points="55.50,228.32 56.26,228.28 57.03,228.23 57.79,228.18 58.55,228.13 59.31,228.08 60.08,228.03 60.84,227.97 61.60,227.92 62.36,227.86 63.13,227.80 63.89,227.74 64.65,227.68 65.41,227.62 66.18,227.56 66.94,227.49 67.70,227.43 68.46,227.36 69.23,227.29 69.99,227.22 70.75,227.14 71.51,227.07 72.28,226.99 73.04,226.91 73.80,226.83 74.56,226.75 75.33,226.67 76.09,226.58 76.85,226.49 77.61,226.40 78.38,226.31 79.14,226.21 79.90,226.11 80.66,226.01 81.43,225.91 82.19,225.80 82.95,225.69 83.71,225.58 84.48,225.47 85.24,225.35 86.00,225.23 86.76,225.10 87.53,224.98 88.29,224.85 89.05,224.71 89.81,224.57 90.58,224.43 91.34,224.29 92.10,224.14 92.86,223.99 93.63,223.83 94.39,223.67 95.15,223.50 95.91,223.33 96.68,223.15 97.44,222.97 98.20,222.78 98.96,222.59 99.73,222.39 100.49,222.19 101.25,221.98 102.02,221.77 102.78,221.54 103.54,221.32 104.30,221.08 105.07,220.84 105.83,220.59 106.59,220.33 107.35,220.06 108.12,219.79 108.88,219.51 109.64,219.22 110.40,218.92 111.17,218.61 111.93,218.29 112.69,217.96 113.45,217.62 114.22,217.27 114.98,216.90 115.74,216.53 116.50,216.14 117.27,215.74 118.03,215.33 118.79,214.90 119.55,214.46 120.32,214.00 121.08,213.53 121.84,213.04 122.60,212.54 123.37,212.01 124.13,211.47 124.89,210.91 125.65,210.34 126.42,209.74 127.18,209.12 127.94,208.48 128.70,207.81 129.47,207.13 130.23,206.42 130.99,205.68 131.75,204.92 132.52,204.14 133.28,203.32 134.04,202.48 134.80,201.61 135.57,200.71 136.33,199.78 137.09,198.82 137.85,197.83 138.62,196.80 139.38,195.75 140.14,194.66 140.90,193.53 141.67,192.37 142.43,191.18 143.19,189.96 143.95,188.70 144.72,187.41 145.48,186.09 146.24,184.74 147.01,183.36 147.77,181.95 148.53,180.52 149.29,179.06 150.06,177.59 150.82,176.10 151.58,174.59 152.34,173.09 153.11,171.58 153.87,170.07 154.63,168.58 155.39,167.10 156.16,165.65 156.92,164.23 157.68,162.85 158.44,161.52 159.21,160.26 159.97,159.05 160.73,157.93 161.49,156.90 162.26,155.95 163.02,155.11 163.78,154.39 164.54,153.77 165.31,153.29 166.07,152.93 166.83,152.70 167.59,152.61 168.36,152.65 169.12,152.86 169.88,153.22 170.64,153.73 171.41,154.39 172.17,155.18 172.93,156.11 173.69,157.15 174.46,158.31 175.22,159.56 175.98,160.90 176.74,162.32 177.51,163.80 178.27,165.33 179.03,166.90 179.79,168.51 180.56,170.13 181.32,171.77 182.08,173.41 182.84,175.06 183.61,176.69 184.37,178.31 185.13,179.90 185.89,181.48 186.66,183.03 187.42,184.54 188.18,186.02 188.94,187.47 189.71,188.88 190.47,190.26 191.23,191.59 191.99,192.89 192.76,194.14 193.52,195.36 194.28,196.54 195.05,197.68 195.81,198.79 196.57,199.86 197.33,200.89 198.10,201.88 198.86,202.85 199.62,203.77 200.38,204.67 201.15,205.54 201.91,206.37 202.67,207.18 203.43,207.95 204.20,208.70 204.96,209.43 205.72,210.13 206.48,210.80 207.25,211.45 208.01,212.08 208.77,212.69 209.53,213.27 210.30,213.84 211.06,214.38 211.82,214.91 212.58,215.42 213.35,215.92 214.11,216.39 214.87,216.86 215.63,217.30 216.40,217.73 217.16,218.15 217.92,218.56 218.68,218.95 219.45,219.33 220.21,219.70 220.97,220.05 221.73,220.40 222.50,220.73 223.26,221.06 224.02,221.37 224.78,221.68 225.55,221.97 226.31,222.26 227.07,222.54 227.83,222.81 228.60,223.08 229.36,223.33 230.12,223.58 230.88,223.82 231.65,224.06 232.41,224.29 233.17,224.51 233.93,224.73 234.70,224.94 235.46,225.15 236.22,225.35 236.98,225.54 237.75,225.73 238.51,225.92 239.27,226.10 240.04,226.28 240.80,226.45 241.56,226.62 242.32,226.78 243.09,226.94 243.85,227.10 244.61,227.25 245.37,227.40 246.14,227.54 246.90,227.69 247.66,227.82 248.42,227.96 249.19,228.09 249.95,228.22 250.71,228.35 251.47,228.47 252.24,228.60 253.00,228.71 253.76,228.83 254.52,228.95 255.29,229.06 256.05,229.17 256.81,229.27 257.57,229.38 258.34,229.48 259.10,229.58 259.86,229.68 260.62,229.78 261.39,229.87 262.15,229.97 262.91,230.06 263.67,230.15 264.44,230.24 265.20,230.32 265.96,230.41 266.72,230.49 267.49,230.57 268.25,230.65 269.01,230.73 269.77,230.81 270.54,230.89 271.30,230.96 272.06,231.04 272.82,231.11 273.59,231.18 274.35,231.25 275.11,231.32 275.87,231.39 276.64,231.45 277.40,231.52 278.16,231.59 278.92,231.65 279.69,231.71 280.45,231.77 281.21,231.83 281.97,231.89 282.74,231.95 283.50,232.01" stroke="#F14040"/>
<polyline points="55.50,228.48 56.26,228.43 57.03,228.38 57.79,228.33 58.55,228.27 59.31,228.22 60.08,228.16 60.84,228.11 61.60,228.05 62.36,227.99 63.13,227.93 63.89,227.87 64.65,227.80 65.41,227.74 66.18,227.67 66.94,227.61 67.70,227.54 68.46,227.47 69.23,227.39 69.99,227.32 70.75,227.25 71.51,227.17 72.28,227.09 73.04,227.01 73.80,226.93 74.56,226.84 75.33,226.76 76.09,226.67 76.85,226.58 77.61,226.48 78.38,226.39 79.14,226.29 79.90,226.19 80.66,226.09 81.43,225.99 82.19,225.88 82.95,225.77 83.71,225.66 84.48,225.54 85.24,225.42 86.00,225.30 86.76,225.18 87.53,225.05 88.29,224.92 89.05,224.79 89.81,224.65 90.58,224.51 91.34,224.37 92.10,224.22 92.86,224.07 93.63,223.91 94.39,223.75 95.15,223.59 95.91,223.42 96.68,223.25 97.44,223.07 98.20,222.88 98.96,222.70 99.73,222.50 100.49,222.30 101.25,222.10 102.02,221.89 102.78,221.67 103.54,221.45 104.30,221.22 105.07,220.99 105.83,220.75 106.59,220.50 107.35,220.24 108.12,219.98 108.88,219.70 109.64,219.42 110.40,219.13 111.17,218.84 111.93,218.53 112.69,218.21 113.45,217.89 114.22,217.55 114.98,217.20 115.74,216.85 116.50,216.48 117.27,216.10 118.03,215.70 118.79,215.30 119.55,214.88 120.32,214.45 121.08,214.00 121.84,213.54 122.60,213.06 123.37,212.57 124.13,212.06 124.89,211.53 125.65,210.99 126.42,210.43 127.18,209.85 127.94,209.25 128.70,208.63 129.47,207.98 130.23,207.32 130.99,206.63 131.75,205.93 132.52,205.19 133.28,204.44 134.04,203.65 134.80,202.84 135.57,202.01 136.33,201.15 137.09,200.25 137.85,199.33 138.62,198.38 139.38,197.40 140.14,196.39 140.90,195.35 141.67,194.28 142.43,193.18 143.19,192.04 143.95,190.87 144.72,189.68 145.48,188.45 146.24,187.19 147.01,185.90 147.77,184.59 148.53,183.25 149.29,181.88 150.06,180.50 150.82,179.09 151.58,177.67 152.34,176.23 153.11,174.79 153.87,173.34 154.63,171.89 155.39,170.45 156.16,169.02 156.92,167.61 157.68,166.23 158.44,164.88 159.21,163.57 159.97,162.31 160.73,161.11 161.49,159.97 162.26,158.91 163.02,157.93 163.78,157.05 164.54,156.26 165.31,155.57 166.07,155.00 166.83,154.54 167.59,154.20 168.36,153.99 169.12,153.90 169.88,153.95 170.64,154.15 171.41,154.49 172.17,154.97 172.93,155.59 173.69,156.35 174.46,157.22 175.22,158.22 175.98,159.31 176.74,160.51 177.51,161.79 178.27,163.14 179.03,164.56 179.79,166.03 180.56,167.54 181.32,169.09 182.08,170.67 182.84,172.26 183.61,173.86 184.37,175.46 185.13,177.05 185.89,178.64 186.66,180.21 187.42,181.76 188.18,183.28 188.94,184.78 189.71,186.25 190.47,187.68 191.23,189.08 191.99,190.45 192.76,191.78 193.52,193.07 194.28,194.33 195.05,195.54 195.81,196.73 196.57,197.87 197.33,198.98 198.10,200.05 198.86,201.08 199.62,202.08 200.38,203.05 201.15,203.98 201.91,204.88 202.67,205.75 203.43,206.59 204.20,207.40 204.96,208.18 205.72,208.94 206.48,209.66 207.25,210.36 208.01,211.04 208.77,211.69 209.53,212.33 210.30,212.93 211.06,213.52 211.82,214.09 212.58,214.64 213.35,215.16 214.11,215.68 214.87,216.17 215.63,216.65 216.40,217.11 217.16,217.55 217.92,217.98 218.68,218.40 219.45,218.80 220.21,219.19 220.97,219.57 221.73,219.93 222.50,220.28 223.26,220.63 224.02,220.96 224.78,221.28 225.55,221.59 226.31,221.89 227.07,222.18 227.83,222.46 228.60,222.74 229.36,223.01 230.12,223.26 230.88,223.52 231.65,223.76 232.41,224.00 233.17,224.23 233.93,224.45 234.70,224.67 235.46,224.88 236.22,225.08 236.98,225.28 237.75,225.48 238.51,225.67 239.27,225.85 240.04,226.03 240.80,226.20 241.56,226.37 242.32,226.54 243.09,226.70 243.85,226.86 244.61,227.01 245.37,227.16 246.14,227.30 246.90,227.45 247.66,227.58 248.42,227.72 249.19,227.85 249.95,227.98 250.71,228.11 251.47,228.23 252.24,228.35 253.00,228.47 253.76,228.58 254.52,228.69 255.29,228.80 256.05,228.91 256.81,229.01 257.57,229.12 258.34,229.22 259.10,229.31 259.86,229.41 260.62,229.50 261.39,229.60 262.15,229.69 262.91,229.77 263.67,229.86 264.44,229.94 265.20,230.03 265.96,230.11 266.72,230.19 267.49,230.27 268.25,230.34 269.01,230.42 269.77,230.49 270.54,230.56 271.30,230.63 272.06,230.70 272.82,230.77 273.59,230.84 274.35,230.91 275.11,230.97 275.87,231.03 276.64,231.10 277.40,231.16 278.16,231.22 278.92,231.28 279.69,231.33 280.45,231.39 281.21,231.45 281.97,231.50 282.74,231.56 283.50,231.61" stroke="#1A6FDF"/>
<polyline points="55.50,232.47 56.26,232.46 57.03,232.45 57.79,232.43 58.55,232.42 59.31,232.41 60.08,232.40 60.84,232.39 61.60,232.37 62.36,232.36 63.13,232.35 63.89,232.33 64.65,232.32 65.41,232.30 66.18,232.29 66.94,232.27 67.70,232.26 68.46,232.24 69.23,232.22 69.99,232.21 70.75,232.19 71.51,232.17 72.28,232.15 73.04,232.13 73.80,232.11 74.56,232.09 75.33,232.07 76.09,232.05 76.85,232.03 77.61,232.01 78.38,231.98 79.14,231.96 79.90,231.93 80.66,231.91 81.43,231.88 82.19,231.86 82.95,231.83 83.71,231.80 84.48,231.77 85.24,231.74 86.00,231.71 86.76,231.68 87.53,231.65 88.29,231.61 89.05,231.58 89.81,231.54 90.58,231.50 91.34,231.47 92.10,231.43 92.86,231.38 93.63,231.34 94.39,231.30 95.15,231.25 95.91,231.21 96.68,231.16 97.44,231.11 98.20,231.06 98.96,231.01 99.73,230.95 100.49,230.90 101.25,230.84 102.02,230.78 102.78,230.71 103.54,230.65 104.30,230.58 105.07,230.51 105.83,230.44 106.59,230.37 107.35,230.29 108.12,230.21 108.88,230.13 109.64,230.04 110.40,229.96 111.17,229.86 111.93,229.77 112.69,229.67 113.45,229.57 114.22,229.46 114.98,229.35 115.74,229.24 116.50,229.12 117.27,228.99 118.03,228.87 118.79,228.73 119.55,228.59 120.32,228.45 121.08,228.30 121.84,228.14 122.60,227.98 123.37,227.81 124.13,227.64 124.89,227.46 125.65,227.27 126.42,227.07 127.18,226.86 127.94,226.65 128.70,226.42 129.47,226.19 130.23,225.95 130.99,225.70 131.75,225.44 132.52,225.16 133.28,224.88 134.04,224.59 134.80,224.28 135.57,223.96 136.33,223.63 137.09,223.28 137.85,222.92 138.62,222.55 139.38,222.16 140.14,221.76 140.90,221.34 141.67,220.91 142.43,220.46 143.19,220.00 143.95,219.52 144.72,219.02 145.48,218.51 146.24,217.99 147.01,217.45 147.77,216.90 148.53,216.33 149.29,215.75 150.06,215.16 150.82,214.56 151.58,213.95 152.34,213.33 153.11,212.71 153.87,212.09 154.63,211.47 155.39,210.85 156.16,210.23 156.92,209.63 157.68,209.04 158.44,208.46 159.21,207.91 159.97,207.38 160.73,206.88 161.49,206.41 162.26,205.99 163.02,205.60 163.78,205.25 164.54,204.96 165.31,204.71 166.07,204.52 166.83,204.38 167.59,204.30 168.36,204.27 169.12,204.31 169.88,204.42 170.64,204.59 171.41,204.83 172.17,205.12 172.93,205.48 173.69,205.88 174.46,206.34 175.22,206.83 175.98,207.37 176.74,207.94 177.51,208.53 178.27,209.15 179.03,209.79 179.79,210.44 180.56,211.10 181.32,211.77 182.08,212.43 182.84,213.10 183.61,213.76 184.37,214.41 185.13,215.05 185.89,215.68 186.66,216.30 187.42,216.90 188.18,217.48 188.94,218.05 189.71,218.61 190.47,219.14 191.23,219.66 191.99,220.16 192.76,220.64 193.52,221.11 194.28,221.56 195.05,221.99 195.81,222.40 196.57,222.80 197.33,223.18 198.10,223.55 198.86,223.90 199.62,224.24 200.38,224.57 201.15,224.88 201.91,225.18 202.67,225.46 203.43,225.74 204.20,226.00 204.96,226.25 205.72,226.49 206.48,226.73 207.25,226.95 208.01,227.16 208.77,227.37 209.53,227.56 210.30,227.75 211.06,227.93 211.82,228.11 212.58,228.27 213.35,228.43 214.11,228.59 214.87,228.74 215.63,228.88 216.40,229.02 217.16,229.15 217.92,229.28 218.68,229.40 219.45,229.52 220.21,229.63 220.97,229.74 221.73,229.84 222.50,229.95 223.26,230.04 224.02,230.14 224.78,230.23 225.55,230.32 226.31,230.40 227.07,230.48 227.83,230.56 228.60,230.64 229.36,230.71 230.12,230.78 230.88,230.85 231.65,230.92 232.41,230.98 233.17,231.05 233.93,231.11 234.70,231.17 235.46,231.22 236.22,231.28 236.98,231.33 237.75,231.38 238.51,231.43 239.27,231.48 240.04,231.53 240.80,231.57 241.56,231.62 242.32,231.66 243.09,231.70 243.85,231.74 244.61,231.78 245.37,231.82 246.14,231.86 246.90,231.90 247.66,231.93 248.42,231.96 249.19,232.00 249.95,232.03 250.71,232.06 251.47,232.09 252.24,232.12 253.00,232.15 253.76,232.18 254.52,232.21 255.29,232.24 256.05,232.26 256.81,232.29 257.57,232.31 258.34,232.34 259.10,232.36 259.86,232.39 260.62,232.41 261.39,232.43 262.15,232.45 262.91,232.47 263.67,232.49 264.44,232.51 265.20,232.53 265.96,232.55 266.72,232.57 267.49,232.59 268.25,232.61 269.01,232.63 269.77,232.64 270.54,232.66 271.30,232.68 272.06,232.69 272.82,232.71 273.59,232.73 274.35,232.74 275.11,232.76 275.87,232.77 276.64,232.78 277.40,232.80 278.16,232.81 278.92,232.83 279.69,232.84 280.45,232.85 281.21,232.86 281.97,232.88 282.74,232.89 283.50,232.90" stroke="#37AD6B"/>
<polyline points="55.50,234.00 56.26,234.00 57.03,234.00 57.79,234.00 58.55,234.00 59.31,234.00 60.08,234.00 60.84,234.00 61.60,234.00 62.36,234.00 63.13,233.99 63.89,233.99 64.65,233.99 65.41,233.99 66.18,233.99 66.94,233.99 67.70,233.99 68.46,233.99 69.23,233.99 69.99,233.99 70.75,233.99 71.51,233.99 72.28,233.99 73.04,233.99 73.80,233.98 74.56,233.98 75.33,233.98 76.09,233.98 76.85,233.98 77.61,233.98 78.38,233.98 79.14,233.98 79.90,233.98 80.66,233.98 81.43,233.98 82.19,233.97 82.95,233.97 83.71,233.97 84.48,233.97 85.24,233.97 86.00,233.97 86.76,233.97 87.53,233.97 88.29,233.97 89.05,233.96 89.81,233.96 90.58,233.96 91.34,233.96 92.10,233.96 92.86,233.96 93.63,233.96 94.39,233.95 95.15,233.95 95.91,233.95 96.68,233.95 97.44,233.95 98.20,233.94 98.96,233.94 99.73,233.94 100.49,233.94 101.25,233.94 102.02,233.93 102.78,233.93 103.54,233.93 104.30,233.93 105.07,233.93 105.83,233.92 106.59,233.92 107.35,233.92 108.12,233.91 108.88,233.91 109.64,233.91 110.40,233.91 111.17,233.90 111.93,233.90 112.69,233.89 113.45,233.89 114.22,233.89 114.98,233.88 115.74,233.88 116.50,233.87 117.27,233.87 118.03,233.87 118.79,233.86 119.55,233.86 120.32,233.85 121.08,233.84 121.84,233.84 122.60,233.83 123.37,233.83 124.13,233.82 124.89,233.81 125.65,233.81 126.42,233.80 127.18,233.79 127.94,233.78 128.70,233.77 129.47,233.76 130.23,233.75 130.99,233.74 131.75,233.73 132.52,233.72 133.28,233.71 134.04,233.70 134.80,233.68 135.57,233.67 136.33,233.65 137.09,233.64 137.85,233.62 138.62,233.60 139.38,233.58 140.14,233.56 140.90,233.54 141.67,233.52 142.43,233.49 143.19,233.47 143.95,233.44 144.72,233.41 145.48,233.38 146.24,233.35 147.01,233.31 147.77,233.27 148.53,233.23 149.29,233.19 150.06,233.14 150.82,233.09 151.58,233.04 152.34,232.99 153.11,232.93 153.87,232.86 154.63,232.80 155.39,232.73 156.16,232.65 156.92,232.57 157.68,232.49 158.44,232.41 159.21,232.32 159.97,232.23 160.73,232.14 161.49,232.05 162.26,231.96 163.02,231.88 163.78,231.80 164.54,231.72 165.31,231.66 166.07,231.60 166.83,231.55 167.59,231.52 168.36,231.50 169.12,231.50 169.88,231.51 170.64,231.52 171.41,231.54 172.17,231.56 172.93,231.60 173.69,231.63 174.46,231.67 175.22,231.72 175.98,231.77 176.74,231.82 177.51,231.87 178.27,231.93 179.03,231.98 179.79,232.04 180.56,232.09 181.32,232.15 182.08,232.20 182.84,232.25 183.61,232.30 184.37,232.35 185.13,232.40 185.89,232.45 186.66,232.50 187.42,232.54 188.18,232.58 188.94,232.62 189.71,232.66 190.47,232.70 191.23,232.74 191.99,232.77 192.76,232.81 193.52,232.84 194.28,232.87 195.05,232.90 195.81,232.93 196.57,232.96 197.33,232.99 198.10,233.01 198.86,233.04 199.62,233.06 200.38,233.08 201.15,233.10 201.91,233.13 202.67,233.15 203.43,233.17 204.20,233.18 204.96,233.20 205.72,233.22 206.48,233.24 207.25,233.25 208.01,233.27 208.77,233.28 209.53,233.30 210.30,233.31 211.06,233.33 211.82,233.34 212.58,233.35 213.35,233.37 214.11,233.38 214.87,233.39 215.63,233.40 216.40,233.41 217.16,233.42 217.92,233.43 218.68,233.44 219.45,233.45 220.21,233.46 220.97,233.47 221.73,233.48 222.50,233.49 223.26,233.50 224.02,233.51 224.78,233.51 225.55,233.52 226.31,233.53 227.07,233.54 227.83,233.54 228.60,233.55 229.36,233.56 230.12,233.56 230.88,233.57 231.65,233.58 232.41,233.58 233.17,233.59 233.93,233.59 234.70,233.60 235.46,233.61 236.22,233.61 236.98,233.62 237.75,233.62 238.51,233.63 239.27,233.63 240.04,233.64 240.80,233.64 241.56,233.65 242.32,233.65 243.09,233.66 243.85,233.66 244.61,233.66 245.37,233.67 246.14,233.67 246.90,233.68 247.66,233.68 248.42,233.68 249.19,233.69 249.95,233.69 250.71,233.69 251.47,233.70 252.24,233.70 253.00,233.71 253.76,233.71 254.52,233.71 255.29,233.72 256.05,233.72 256.81,233.72 257.57,233.72 258.34,233.73 259.10,233.73 259.86,233.73 260.62,233.74 261.39,233.74 262.15,233.74 262.91,233.74 263.67,233.75 264.44,233.75 265.20,233.75 265.96,233.75 266.72,233.76 267.49,233.76 268.25,233.76 269.01,233.76 269.77,233.77 270.54,233.77 271.30,233.77 272.06,233.77 272.82,233.77 273.59,233.78 274.35,233.78 275.11,233.78 275.87,233.78 276.64,233.78 277.40,233.79 278.16,233.79 278.92,233.79 279.69,233.79 280.45,233.79 281.21,233.80 281.97,233.80 282.74,233.80 283.50,233.80" stroke="#B177DE"/>
</g>
<rect x="55.5" y="140.95" width="228.0" height="93.30000000000001" fill="none" stroke="#262626" stroke-width="1.1"/>
<line x1="55.5" y1="234.25" x2="55.5" y2="231.85" stroke="#262626" stroke-width="1.0"/>
<line x1="55.5" y1="140.95" x2="55.5" y2="143.35" stroke="#262626" stroke-width="1.0"/>
<line x1="112.5" y1="234.25" x2="112.5" y2="231.85" stroke="#262626" stroke-width="1.0"/>
<line x1="112.5" y1="140.95" x2="112.5" y2="143.35" stroke="#262626" stroke-width="1.0"/>
<line x1="169.5" y1="234.25" x2="169.5" y2="231.85" stroke="#262626" stroke-width="1.0"/>
<line x1="169.5" y1="140.95" x2="169.5" y2="143.35" stroke="#262626" stroke-width="1.0"/>
<line x1="226.5" y1="234.25" x2="226.5" y2="231.85" stroke="#262626" stroke-width="1.0"/>
<line x1="226.5" y1="140.95" x2="226.5" y2="143.35" stroke="#262626" stroke-width="1.0"/>
<line x1="283.5" y1="234.25" x2="283.5" y2="231.85" stroke="#262626" stroke-width="1.0"/>
<line x1="283.5" y1="140.95" x2="283.5" y2="143.35" stroke="#262626" stroke-width="1.0"/>
<line x1="84" y1="234.25" x2="84" y2="232.85" stroke="#262626" stroke-width="1.0"/>
<line x1="84" y1="140.95" x2="84" y2="142.35" stroke="#262626" stroke-width="1.0"/>
<line x1="141" y1="234.25" x2="141" y2="232.85" stroke="#262626" stroke-width="1.0"/>
<line x1="141" y1="140.95" x2="141" y2="142.35" stroke="#262626" stroke-width="1.0"/>
<line x1="198" y1="234.25" x2="198" y2="232.85" stroke="#262626" stroke-width="1.0"/>
<line x1="198" y1="140.95" x2="198" y2="142.35" stroke="#262626" stroke-width="1.0"/>
<line x1="255" y1="234.25" x2="255" y2="232.85" stroke="#262626" stroke-width="1.0"/>
<line x1="255" y1="140.95" x2="255" y2="142.35" stroke="#262626" stroke-width="1.0"/>
<line x1="55.5" y1="234.25" x2="57.9" y2="234.25" stroke="#262626" stroke-width="1.0"/>
<line x1="55.5" y1="215.59" x2="57.9" y2="215.59" stroke="#262626" stroke-width="1.0"/>
<line x1="55.5" y1="196.93" x2="57.9" y2="196.93" stroke="#262626" stroke-width="1.0"/>
<line x1="55.5" y1="178.27" x2="57.9" y2="178.27" stroke="#262626" stroke-width="1.0"/>
<line x1="55.5" y1="159.61" x2="57.9" y2="159.61" stroke="#262626" stroke-width="1.0"/>
<line x1="55.5" y1="140.95" x2="57.9" y2="140.95" stroke="#262626" stroke-width="1.0"/>
<line x1="55.5" y1="224.92" x2="56.9" y2="224.92" stroke="#262626" stroke-width="1.0"/>
<line x1="55.5" y1="206.26" x2="56.9" y2="206.26" stroke="#262626" stroke-width="1.0"/>
<line x1="55.5" y1="187.6" x2="56.9" y2="187.6" stroke="#262626" stroke-width="1.0"/>
<line x1="55.5" y1="168.94" x2="56.9" y2="168.94" stroke="#262626" stroke-width="1.0"/>
<line x1="55.5" y1="150.28" x2="56.9" y2="150.28" stroke="#262626" stroke-width="1.0"/>
<line x1="283.5" y1="234.25" x2="281.1" y2="234.25" stroke="#262626" stroke-width="1.0"/>
<line x1="283.5" y1="215.59" x2="281.1" y2="215.59" stroke="#262626" stroke-width="1.0"/>
<line x1="283.5" y1="196.93" x2="281.1" y2="196.93" stroke="#262626" stroke-width="1.0"/>
<line x1="283.5" y1="178.27" x2="281.1" y2="178.27" stroke="#262626" stroke-width="1.0"/>
<line x1="283.5" y1="159.61" x2="281.1" y2="159.61" stroke="#262626" stroke-width="1.0"/>
<line x1="283.5" y1="140.95" x2="281.1" y2="140.95" stroke="#262626" stroke-width="1.0"/>
<line x1="283.5" y1="224.92" x2="282.1" y2="224.92" stroke="#262626" stroke-width="1.0"/>
<line x1="283.5" y1="206.26" x2="282.1" y2="206.26" stroke="#262626" stroke-width="1.0"/>
<line x1="283.5" y1="187.6" x2="282.1" y2="187.6" stroke="#262626" stroke-width="1.0"/>
<line x1="283.5" y1="168.94" x2="282.1" y2="168.94" stroke="#262626" stroke-width="1.0"/>
<line x1="283.5" y1="150.28" x2="282.1" y2="150.28" stroke="#262626" stroke-width="1.0"/>
<text x="52.4" y="238.45" font-size="13" text-anchor="end" fill="#000" >0.0</text>
<text x="52.4" y="219.79" font-size="13" text-anchor="end" fill="#000" >0.1</text>
<text x="52.4" y="201.13" font-size="13" text-anchor="end" fill="#000" >0.2</text>
<text x="52.4" y="182.47" font-size="13" text-anchor="end" fill="#000" >0.3</text>
<text x="52.4" y="163.81" font-size="13" text-anchor="end" fill="#000" >0.4</text>
<text x="52.4" y="145.15" font-size="13" text-anchor="end" fill="#000" >0.5</text>
<text x="55.5" y="247.75" font-size="13" text-anchor="middle" fill="#000" >525</text>
<text x="112.5" y="247.75" font-size="13" text-anchor="middle" fill="#000" >550</text>
<text x="169.5" y="247.75" font-size="13" text-anchor="middle" fill="#000" >575</text>
<text x="226.5" y="247.75" font-size="13" text-anchor="middle" fill="#000" >600</text>
<text x="283.5" y="247.75" font-size="13" text-anchor="middle" fill="#000" >625</text>
<text x="169.4" y="259.75" font-size="13.5" text-anchor="middle" fill="#000" >Wavelength (nm)</text>
<text x="29.2" y="182.5" font-size="13.5" text-anchor="middle" fill="#000" transform="rotate(-90 29.2 182.5)">Transmission</text>
<text x="2.9" y="134.7" font-size="13.5" text-anchor="start" fill="#000" >(b)</text>
<line x1="228.5" y1="151" x2="252.4" y2="151" stroke="#515151" stroke-width="1.5"/>
<text x="254.4" y="154.7" font-size="10.4" text-anchor="start" fill="#000" >C6</text>
<line x1="228.5" y1="163.65" x2="252.4" y2="163.65" stroke="#F14040" stroke-width="1.5"/>
<text x="254.4" y="167.35" font-size="10.4" text-anchor="start" fill="#000" >C7</text>
<line x1="228.5" y1="176.3" x2="252.4" y2="176.3" stroke="#1A6FDF" stroke-width="1.5"/>
<text x="254.4" y="180" font-size="10.4" text-anchor="start" fill="#000" >C8</text>
<line x1="228.5" y1="188.95" x2="252.4" y2="188.95" stroke="#37AD6B" stroke-width="1.5"/>
<text x="254.4" y="192.65" font-size="10.4" text-anchor="start" fill="#000" >C9</text>
<line x1="228.5" y1="201.6" x2="252.4" y2="201.6" stroke="#B177DE" stroke-width="1.5"/>
<text x="254.4" y="205.3" font-size="10.4" text-anchor="start" fill="#000" >C10</text>
<clipPath id="clipc"><rect x="55.5" y="271.6" width="228.0" height="95.29999999999995"/></clipPath>
<g clip-path="url(#clipc)" fill="none" stroke-width="1.65" stroke-linejoin="round">
<polyline points="55.50,364.30 56.26,364.29 57.03,364.29 57.79,364.29 58.55,364.28 59.31,364.28 60.08,364.28 60.84,364.27 61.60,364.27 62.36,364.27 63.13,364.26 63.89,364.26 64.65,364.26 65.41,364.25 66.18,364.25 66.94,364.25 67.70,364.24 68.46,364.24 69.23,364.24 69.99,364.23 70.75,364.23 71.51,364.23 72.28,364.22 73.04,364.22 73.80,364.21 74.56,364.21 75.33,364.20 76.09,364.20 76.85,364.20 77.61,364.19 78.38,364.19 79.14,364.18 79.90,364.18 80.66,364.17 81.43,364.17 82.19,364.16 82.95,364.16 83.71,364.15 84.48,364.15 85.24,364.14 86.00,364.13 86.76,364.13 87.53,364.12 88.29,364.12 89.05,364.11 89.81,364.10 90.58,364.10 91.34,364.09 92.10,364.08 92.86,364.07 93.63,364.07 94.39,364.06 95.15,364.05 95.91,364.04 96.68,364.03 97.44,364.02 98.20,364.02 98.96,364.01 99.73,364.00 100.49,363.99 101.25,363.98 102.02,363.96 102.78,363.95 103.54,363.94 104.30,363.93 105.07,363.92 105.83,363.90 106.59,363.89 107.35,363.88 108.12,363.86 108.88,363.85 109.64,363.83 110.40,363.81 111.17,363.80 111.93,363.78 112.69,363.76 113.45,363.74 114.22,363.72 114.98,363.70 115.74,363.68 116.50,363.65 117.27,363.63 118.03,363.60 118.79,363.58 119.55,363.55 120.32,363.52 121.08,363.49 121.84,363.46 122.60,363.43 123.37,363.39 124.13,363.36 124.89,363.32 125.65,363.28 126.42,363.24 127.18,363.20 127.94,363.15 128.70,363.11 129.47,363.06 130.23,363.01 130.99,362.95 131.75,362.90 132.52,362.84 133.28,362.78 134.04,362.72 134.80,362.65 135.57,362.58 136.33,362.51 137.09,362.43 137.85,362.36 138.62,362.27 139.38,362.19 140.14,362.10 140.90,362.01 141.67,361.92 142.43,361.82 143.19,361.72 143.95,361.61 144.72,361.50 145.48,361.39 146.24,361.27 147.01,361.15 147.77,361.03 148.53,360.90 149.29,360.77 150.06,360.64 150.82,360.50 151.58,360.36 152.34,360.22 153.11,360.08 153.87,359.93 154.63,359.79 155.39,359.64 156.16,359.49 156.92,359.35 157.68,359.20 158.44,359.05 159.21,358.91 159.97,358.77 160.73,358.63 161.49,358.50 162.26,358.37 163.02,358.24 163.78,358.13 164.54,358.01 165.31,357.91 166.07,357.81 166.83,357.73 167.59,357.65 168.36,357.58 169.12,357.52 169.88,357.47 170.64,357.44 171.41,357.41 172.17,357.40 172.93,357.39 173.69,357.41 174.46,357.43 175.22,357.47 175.98,357.52 176.74,357.58 177.51,357.65 178.27,357.73 179.03,357.82 179.79,357.92 180.56,358.03 181.32,358.14 182.08,358.25 182.84,358.36 183.61,358.48 184.37,358.60 185.13,358.72 185.89,358.84 186.66,358.96 187.42,359.08 188.18,359.20 188.94,359.31 189.71,359.42 190.47,359.53 191.23,359.64 191.99,359.75 192.76,359.85 193.52,359.95 194.28,360.04 195.05,360.13 195.81,360.22 196.57,360.31 197.33,360.40 198.10,360.48 198.86,360.56 199.62,360.63 200.38,360.70 201.15,360.78 201.91,360.84 202.67,360.91 203.43,360.97 204.20,361.03 204.96,361.09 205.72,361.15 206.48,361.21 207.25,361.26 208.01,361.31 208.77,361.36 209.53,361.41 210.30,361.46 211.06,361.50 211.82,361.55 212.58,361.59 213.35,361.63 214.11,361.67 214.87,361.71 215.63,361.75 216.40,361.78 217.16,361.82 217.92,361.85 218.68,361.88 219.45,361.91 220.21,361.95 220.97,361.98 221.73,362.00 222.50,362.03 223.26,362.06 224.02,362.09 224.78,362.11 225.55,362.14 226.31,362.16 227.07,362.18 227.83,362.21 228.60,362.23 229.36,362.25 230.12,362.27 230.88,362.29 231.65,362.31 232.41,362.33 233.17,362.35 233.93,362.37 234.70,362.39 235.46,362.40 236.22,362.42 236.98,362.44 237.75,362.45 238.51,362.47 239.27,362.48 240.04,362.50 240.80,362.51 241.56,362.53 242.32,362.54 243.09,362.56 243.85,362.57 244.61,362.58 245.37,362.59 246.14,362.61 246.90,362.62 247.66,362.63 248.42,362.64 249.19,362.65 249.95,362.66 250.71,362.67 251.47,362.68 252.24,362.69 253.00,362.70 253.76,362.71 254.52,362.72 255.29,362.73 256.05,362.74 256.81,362.75 257.57,362.76 258.34,362.77 259.10,362.77 259.86,362.78 260.62,362.79 261.39,362.80 262.15,362.80 262.91,362.81 263.67,362.82 264.44,362.83 265.20,362.83 265.96,362.84 266.72,362.85 267.49,362.85 268.25,362.86 269.01,362.86 269.77,362.87 270.54,362.88 271.30,362.88 272.06,362.89 272.82,362.89 273.59,362.90 274.35,362.90 275.11,362.91 275.87,362.91 276.64,362.92 277.40,362.92 278.16,362.93 278.92,362.93 279.69,362.94 280.45,362.94 281.21,362.95 281.97,362.95 282.74,362.95 283.50,362.96" stroke="#515151"/>
<polyline points="55.50,363.20 56.26,363.20 57.03,363.20 57.79,363.19 58.55,363.19 59.31,363.19 60.08,363.18 60.84,363.18 61.60,363.17 62.36,363.17 63.13,363.17 63.89,363.16 64.65,363.16 65.41,363.15 66.18,363.15 66.94,363.14 67.70,363.14 68.46,363.13 69.23,363.13 69.99,363.12 70.75,363.11 71.51,363.11 72.28,363.10 73.04,363.10 73.80,363.09 74.56,363.08 75.33,363.08 76.09,363.07 76.85,363.06 77.61,363.05 78.38,363.04 79.14,363.04 79.90,363.03 80.66,363.02 81.43,363.01 82.19,363.00 82.95,362.99 83.71,362.98 84.48,362.97 85.24,362.96 86.00,362.95 86.76,362.93 87.53,362.92 88.29,362.91 89.05,362.89 89.81,362.88 90.58,362.87 91.34,362.85 92.10,362.84 92.86,362.82 93.63,362.80 94.39,362.79 95.15,362.77 95.91,362.75 96.68,362.73 97.44,362.71 98.20,362.69 98.96,362.67 99.73,362.64 100.49,362.62 101.25,362.60 102.02,362.57 102.78,362.54 103.54,362.52 104.30,362.49 105.07,362.46 105.83,362.42 106.59,362.39 107.35,362.36 108.12,362.32 108.88,362.29 109.64,362.25 110.40,362.21 111.17,362.16 111.93,362.12 112.69,362.07 113.45,362.03 114.22,361.98 114.98,361.92 115.74,361.87 116.50,361.81 117.27,361.75 118.03,361.69 118.79,361.63 119.55,361.56 120.32,361.49 121.08,361.41 121.84,361.34 122.60,361.26 123.37,361.17 124.13,361.08 124.89,360.99 125.65,360.89 126.42,360.79 127.18,360.69 127.94,360.58 128.70,360.46 129.47,360.34 130.23,360.21 130.99,360.08 131.75,359.94 132.52,359.80 133.28,359.65 134.04,359.49 134.80,359.33 135.57,359.16 136.33,358.98 137.09,358.79 137.85,358.60 138.62,358.40 139.38,358.18 140.14,357.96 140.90,357.74 141.67,357.50 142.43,357.25 143.19,357.00 143.95,356.73 144.72,356.46 145.48,356.17 146.24,355.88 147.01,355.58 147.77,355.27 148.53,354.95 149.29,354.62 150.06,354.28 150.82,353.94 151.58,353.59 152.34,353.23 153.11,352.87 153.87,352.50 154.63,352.13 155.39,351.76 156.16,351.39 156.92,351.01 157.68,350.64 158.44,350.27 159.21,349.91 159.97,349.55 160.73,349.20 161.49,348.86 162.26,348.54 163.02,348.23 163.78,347.93 164.54,347.66 165.31,347.40 166.07,347.17 166.83,346.96 167.59,346.77 168.36,346.62 169.12,346.49 169.88,346.39 170.64,346.32 171.41,346.28 172.17,346.27 172.93,346.29 173.69,346.34 174.46,346.42 175.22,346.53 175.98,346.66 176.74,346.82 177.51,346.99 178.27,347.19 179.03,347.41 179.79,347.64 180.56,347.89 181.32,348.15 182.08,348.41 182.84,348.69 183.61,348.96 184.37,349.25 185.13,349.53 185.89,349.82 186.66,350.10 187.42,350.38 188.18,350.66 188.94,350.94 189.71,351.21 190.47,351.48 191.23,351.74 191.99,351.99 192.76,352.24 193.52,352.49 194.28,352.73 195.05,352.96 195.81,353.19 196.57,353.41 197.33,353.62 198.10,353.83 198.86,354.03 199.62,354.23 200.38,354.42 201.15,354.60 201.91,354.78 202.67,354.95 203.43,355.12 204.20,355.28 204.96,355.44 205.72,355.60 206.48,355.74 207.25,355.89 208.01,356.03 208.77,356.16 209.53,356.30 210.30,356.42 211.06,356.55 211.82,356.67 212.58,356.79 213.35,356.90 214.11,357.01 214.87,357.12 215.63,357.22 216.40,357.33 217.16,357.42 217.92,357.52 218.68,357.61 219.45,357.70 220.21,357.79 220.97,357.88 221.73,357.96 222.50,358.04 223.26,358.12 224.02,358.20 224.78,358.28 225.55,358.35 226.31,358.42 227.07,358.49 227.83,358.56 228.60,358.63 229.36,358.69 230.12,358.76 230.88,358.82 231.65,358.88 232.41,358.94 233.17,359.00 233.93,359.05 234.70,359.11 235.46,359.16 236.22,359.22 236.98,359.27 237.75,359.32 238.51,359.37 239.27,359.41 240.04,359.46 240.80,359.51 241.56,359.55 242.32,359.60 243.09,359.64 243.85,359.68 244.61,359.73 245.37,359.77 246.14,359.81 246.90,359.85 247.66,359.89 248.42,359.92 249.19,359.96 249.95,360.00 250.71,360.03 251.47,360.07 252.24,360.10 253.00,360.13 253.76,360.17 254.52,360.20 255.29,360.23 256.05,360.26 256.81,360.29 257.57,360.32 258.34,360.35 259.10,360.38 259.86,360.41 260.62,360.44 261.39,360.47 262.15,360.50 262.91,360.52 263.67,360.55 264.44,360.57 265.20,360.60 265.96,360.62 266.72,360.65 267.49,360.67 268.25,360.70 269.01,360.72 269.77,360.74 270.54,360.77 271.30,360.79 272.06,360.81 272.82,360.83 273.59,360.85 274.35,360.88 275.11,360.90 275.87,360.92 276.64,360.94 277.40,360.96 278.16,360.98 278.92,361.00 279.69,361.01 280.45,361.03 281.21,361.05 281.97,361.07 282.74,361.09 283.50,361.11" stroke="#F14040"/>
<polyline points="55.50,362.77 56.26,362.76 57.03,362.75 57.79,362.74 58.55,362.73 59.31,362.72 60.08,362.71 60.84,362.70 61.60,362.69 62.36,362.67 63.13,362.66 63.89,362.65 64.65,362.63 65.41,362.62 66.18,362.60 66.94,362.58 67.70,362.57 68.46,362.55 69.23,362.53 69.99,362.51 70.75,362.49 71.51,362.47 72.28,362.44 73.04,362.42 73.80,362.40 74.56,362.37 75.33,362.35 76.09,362.32 76.85,362.29 77.61,362.26 78.38,362.23 79.14,362.20 79.90,362.16 80.66,362.13 81.43,362.09 82.19,362.06 82.95,362.02 83.71,361.98 84.48,361.94 85.24,361.89 86.00,361.85 86.76,361.80 87.53,361.75 88.29,361.70 89.05,361.65 89.81,361.59 90.58,361.54 91.34,361.48 92.10,361.42 92.86,361.35 93.63,361.29 94.39,361.22 95.15,361.15 95.91,361.07 96.68,360.99 97.44,360.91 98.20,360.83 98.96,360.74 99.73,360.65 100.49,360.56 101.25,360.46 102.02,360.35 102.78,360.25 103.54,360.14 104.30,360.02 105.07,359.90 105.83,359.78 106.59,359.65 107.35,359.51 108.12,359.37 108.88,359.22 109.64,359.07 110.40,358.91 111.17,358.74 111.93,358.57 112.69,358.39 113.45,358.20 114.22,358.00 114.98,357.80 115.74,357.59 116.50,357.36 117.27,357.13 118.03,356.89 118.79,356.64 119.55,356.38 120.32,356.10 121.08,355.82 121.84,355.52 122.60,355.21 123.37,354.88 124.13,354.54 124.89,354.19 125.65,353.82 126.42,353.44 127.18,353.04 127.94,352.62 128.70,352.18 129.47,351.73 130.23,351.25 130.99,350.76 131.75,350.24 132.52,349.70 133.28,349.14 134.04,348.56 134.80,347.95 135.57,347.32 136.33,346.66 137.09,345.97 137.85,345.26 138.62,344.52 139.38,343.75 140.14,342.95 140.90,342.12 141.67,341.26 142.43,340.37 143.19,339.45 143.95,338.49 144.72,337.51 145.48,336.49 146.24,335.44 147.01,334.36 147.77,333.25 148.53,332.11 149.29,330.94 150.06,329.74 150.82,328.51 151.58,327.27 152.34,326.00 153.11,324.71 153.87,323.40 154.63,322.08 155.39,320.75 156.16,319.42 156.92,318.08 157.68,316.75 158.44,315.43 159.21,314.12 159.97,312.84 160.73,311.58 161.49,310.35 162.26,309.16 163.02,308.02 163.78,306.93 164.54,305.90 165.31,304.93 166.07,304.04 166.83,303.23 167.59,302.50 168.36,301.86 169.12,301.31 169.88,300.87 170.64,300.52 171.41,300.28 172.17,300.14 172.93,300.12 173.69,300.19 174.46,300.38 175.22,300.66 175.98,301.05 176.74,301.53 177.51,302.10 178.27,302.74 179.03,303.47 179.79,304.26 180.56,305.10 181.32,306.00 182.08,306.94 182.84,307.92 183.61,308.93 184.37,309.95 185.13,310.99 185.89,312.04 186.66,313.09 187.42,314.15 188.18,315.20 188.94,316.24 189.71,317.27 190.47,318.28 191.23,319.28 191.99,320.26 192.76,321.23 193.52,322.17 194.28,323.09 195.05,323.99 195.81,324.87 196.57,325.72 197.33,326.56 198.10,327.37 198.86,328.16 199.62,328.93 200.38,329.67 201.15,330.40 201.91,331.10 202.67,331.79 203.43,332.45 204.20,333.10 204.96,333.72 205.72,334.33 206.48,334.92 207.25,335.50 208.01,336.05 208.77,336.59 209.53,337.12 210.30,337.63 211.06,338.13 211.82,338.61 212.58,339.08 213.35,339.53 214.11,339.97 214.87,340.41 215.63,340.82 216.40,341.23 217.16,341.63 217.92,342.01 218.68,342.39 219.45,342.76 220.21,343.11 220.97,343.46 221.73,343.80 222.50,344.13 223.26,344.45 224.02,344.76 224.78,345.07 225.55,345.37 226.31,345.66 227.07,345.94 227.83,346.22 228.60,346.49 229.36,346.75 230.12,347.01 230.88,347.26 231.65,347.51 232.41,347.75 233.17,347.99 233.93,348.22 234.70,348.44 235.46,348.66 236.22,348.88 236.98,349.09 237.75,349.30 238.51,349.50 239.27,349.70 240.04,349.89 240.80,350.08 241.56,350.27 242.32,350.45 243.09,350.63 243.85,350.81 244.61,350.98 245.37,351.15 246.14,351.31 246.90,351.48 247.66,351.64 248.42,351.79 249.19,351.95 249.95,352.10 250.71,352.25 251.47,352.39 252.24,352.54 253.00,352.68 253.76,352.81 254.52,352.95 255.29,353.08 256.05,353.21 256.81,353.34 257.57,353.47 258.34,353.59 259.10,353.72 259.86,353.84 260.62,353.96 261.39,354.07 262.15,354.19 262.91,354.30 263.67,354.41 264.44,354.52 265.20,354.63 265.96,354.74 266.72,354.84 267.49,354.94 268.25,355.05 269.01,355.15 269.77,355.25 270.54,355.34 271.30,355.44 272.06,355.53 272.82,355.63 273.59,355.72 274.35,355.81 275.11,355.90 275.87,355.99 276.64,356.07 277.40,356.16 278.16,356.24 278.92,356.33 279.69,356.41 280.45,356.49 281.21,356.57 281.97,356.65 282.74,356.73 283.50,356.81" stroke="#1A6FDF"/>
<polyline points="55.50,362.88 56.26,362.86 57.03,362.84 57.79,362.82 58.55,362.80 59.31,362.78 60.08,362.76 60.84,362.73 61.60,362.71 62.36,362.69 63.13,362.67 63.89,362.64 64.65,362.62 65.41,362.59 66.18,362.57 66.94,362.54 67.70,362.51 68.46,362.49 69.23,362.46 69.99,362.43 70.75,362.40 71.51,362.37 72.28,362.34 73.04,362.31 73.80,362.28 74.56,362.25 75.33,362.21 76.09,362.18 76.85,362.14 77.61,362.11 78.38,362.07 79.14,362.03 79.90,361.99 80.66,361.95 81.43,361.91 82.19,361.87 82.95,361.83 83.71,361.78 84.48,361.74 85.24,361.69 86.00,361.64 86.76,361.59 87.53,361.54 88.29,361.48 89.05,361.43 89.81,361.37 90.58,361.31 91.34,361.25 92.10,361.19 92.86,361.13 93.63,361.06 94.39,360.99 95.15,360.92 95.91,360.85 96.68,360.77 97.44,360.69 98.20,360.61 98.96,360.53 99.73,360.44 100.49,360.35 101.25,360.25 102.02,360.16 102.78,360.06 103.54,359.95 104.30,359.84 105.07,359.73 105.83,359.61 106.59,359.49 107.35,359.37 108.12,359.23 108.88,359.10 109.64,358.95 110.40,358.81 111.17,358.65 111.93,358.49 112.69,358.32 113.45,358.15 114.22,357.97 114.98,357.78 115.74,357.58 116.50,357.37 117.27,357.15 118.03,356.93 118.79,356.69 119.55,356.45 120.32,356.19 121.08,355.92 121.84,355.64 122.60,355.34 123.37,355.03 124.13,354.71 124.89,354.37 125.65,354.01 126.42,353.64 127.18,353.25 127.94,352.84 128.70,352.41 129.47,351.96 130.23,351.48 130.99,350.99 131.75,350.47 132.52,349.92 133.28,349.35 134.04,348.74 134.80,348.11 135.57,347.45 136.33,346.75 137.09,346.02 137.85,345.25 138.62,344.44 139.38,343.60 140.14,342.71 140.90,341.78 141.67,340.80 142.43,339.78 143.19,338.71 143.95,337.59 144.72,336.42 145.48,335.19 146.24,333.91 147.01,332.58 147.77,331.19 148.53,329.74 149.29,328.24 150.06,326.68 150.82,325.06 151.58,323.39 152.34,321.67 153.11,319.89 153.87,318.07 154.63,316.21 155.39,314.30 156.16,312.37 156.92,310.40 157.68,308.42 158.44,306.43 159.21,304.43 159.97,302.45 160.73,300.49 161.49,298.57 162.26,296.69 163.02,294.87 163.78,293.13 164.54,291.49 165.31,289.94 166.07,288.52 166.83,287.23 167.59,286.09 168.36,285.11 169.12,284.30 169.88,283.67 170.64,283.22 171.41,282.97 172.17,282.91 172.93,283.02 173.69,283.29 174.46,283.71 175.22,284.28 175.98,285.00 176.74,285.85 177.51,286.83 178.27,287.91 179.03,289.10 179.79,290.37 180.56,291.72 181.32,293.14 182.08,294.60 182.84,296.11 183.61,297.64 184.37,299.19 185.13,300.76 185.89,302.33 186.66,303.89 187.42,305.44 188.18,306.97 188.94,308.48 189.71,309.97 190.47,311.42 191.23,312.85 191.99,314.24 192.76,315.60 193.52,316.92 194.28,318.20 195.05,319.44 195.81,320.65 196.57,321.82 197.33,322.95 198.10,324.04 198.86,325.10 199.62,326.12 200.38,327.11 201.15,328.07 201.91,328.99 202.67,329.87 203.43,330.73 204.20,331.56 204.96,332.35 205.72,333.12 206.48,333.87 207.25,334.58 208.01,335.27 208.77,335.94 209.53,336.58 210.30,337.20 211.06,337.80 211.82,338.38 212.58,338.94 213.35,339.48 214.11,340.00 214.87,340.50 215.63,340.99 216.40,341.46 217.16,341.91 217.92,342.35 218.68,342.78 219.45,343.19 220.21,343.59 220.97,343.97 221.73,344.35 222.50,344.71 223.26,345.06 224.02,345.40 224.78,345.73 225.55,346.04 226.31,346.35 227.07,346.65 227.83,346.94 228.60,347.22 229.36,347.50 230.12,347.76 230.88,348.02 231.65,348.27 232.41,348.51 233.17,348.75 233.93,348.98 234.70,349.20 235.46,349.42 236.22,349.63 236.98,349.83 237.75,350.03 238.51,350.23 239.27,350.42 240.04,350.60 240.80,350.78 241.56,350.95 242.32,351.12 243.09,351.29 243.85,351.45 244.61,351.61 245.37,351.76 246.14,351.91 246.90,352.05 247.66,352.20 248.42,352.33 249.19,352.47 249.95,352.60 250.71,352.73 251.47,352.85 252.24,352.98 253.00,353.10 253.76,353.21 254.52,353.33 255.29,353.44 256.05,353.55 256.81,353.65 257.57,353.76 258.34,353.86 259.10,353.96 259.86,354.05 260.62,354.15 261.39,354.24 262.15,354.33 262.91,354.42 263.67,354.51 264.44,354.59 265.20,354.67 265.96,354.76 266.72,354.83 267.49,354.91 268.25,354.99 269.01,355.06 269.77,355.14 270.54,355.21 271.30,355.28 272.06,355.35 272.82,355.41 273.59,355.48 274.35,355.54 275.11,355.61 275.87,355.67 276.64,355.73 277.40,355.79 278.16,355.85 278.92,355.90 279.69,355.96 280.45,356.01 281.21,356.07 281.97,356.12 282.74,356.17 283.50,356.22" stroke="#37AD6B"/>
<polyline points="55.50,362.78 56.26,362.77 57.03,362.75 57.79,362.73 58.55,362.71 59.31,362.70 60.08,362.68 60.84,362.66 61.60,362.64 62.36,362.62 63.13,362.60 63.89,362.58 64.65,362.56 65.41,362.54 66.18,362.52 66.94,362.49 67.70,362.47 68.46,362.45 69.23,362.42 69.99,362.40 70.75,362.37 71.51,362.34 72.28,362.32 73.04,362.29 73.80,362.26 74.56,362.23 75.33,362.20 76.09,362.17 76.85,362.14 77.61,362.10 78.38,362.07 79.14,362.03 79.90,362.00 80.66,361.96 81.43,361.92 82.19,361.88 82.95,361.84 83.71,361.80 84.48,361.75 85.24,361.71 86.00,361.66 86.76,361.61 87.53,361.56 88.29,361.51 89.05,361.46 89.81,361.40 90.58,361.35 91.34,361.29 92.10,361.23 92.86,361.16 93.63,361.10 94.39,361.03 95.15,360.96 95.91,360.89 96.68,360.81 97.44,360.73 98.20,360.65 98.96,360.56 99.73,360.48 100.49,360.39 101.25,360.29 102.02,360.19 102.78,360.09 103.54,359.98 104.30,359.87 105.07,359.76 105.83,359.64 106.59,359.51 107.35,359.38 108.12,359.25 108.88,359.10 109.64,358.96 110.40,358.80 111.17,358.64 111.93,358.48 112.69,358.30 113.45,358.12 114.22,357.93 114.98,357.73 115.74,357.52 116.50,357.30 117.27,357.08 118.03,356.84 118.79,356.59 119.55,356.33 120.32,356.06 121.08,355.77 121.84,355.47 122.60,355.16 123.37,354.83 124.13,354.48 124.89,354.12 125.65,353.74 126.42,353.34 127.18,352.92 127.94,352.48 128.70,352.02 129.47,351.54 130.23,351.03 130.99,350.50 131.75,349.94 132.52,349.35 133.28,348.73 134.04,348.08 134.80,347.39 135.57,346.67 136.33,345.92 137.09,345.13 137.85,344.29 138.62,343.42 139.38,342.50 140.14,341.53 140.90,340.52 141.67,339.46 142.43,338.35 143.19,337.18 143.95,335.96 144.72,334.68 145.48,333.34 146.24,331.94 147.01,330.48 147.77,328.96 148.53,327.38 149.29,325.73 150.06,324.03 150.82,322.25 151.58,320.42 152.34,318.53 153.11,316.58 153.87,314.58 154.63,312.53 155.39,310.43 156.16,308.30 156.92,306.14 157.68,303.95 158.44,301.75 159.21,299.55 159.97,297.36 160.73,295.19 161.49,293.05 162.26,290.96 163.02,288.94 163.78,287.00 164.54,285.16 165.31,283.43 166.07,281.83 166.83,280.37 167.59,279.08 168.36,277.95 169.12,277.01 169.88,276.27 170.64,275.73 171.41,275.39 172.17,275.27 172.93,275.37 173.69,275.67 174.46,276.17 175.22,276.87 175.98,277.76 176.74,278.81 177.51,280.02 178.27,281.36 179.03,282.82 179.79,284.38 180.56,286.03 181.32,287.74 182.08,289.50 182.84,291.30 183.61,293.11 184.37,294.94 185.13,296.76 185.89,298.57 186.66,300.36 187.42,302.12 188.18,303.85 188.94,305.54 189.71,307.19 190.47,308.80 191.23,310.37 191.99,311.88 192.76,313.35 193.52,314.78 194.28,316.15 195.05,317.48 195.81,318.76 196.57,320.00 197.33,321.19 198.10,322.34 198.86,323.45 199.62,324.51 200.38,325.54 201.15,326.53 201.91,327.48 202.67,328.40 203.43,329.28 204.20,330.13 204.96,330.95 205.72,331.74 206.48,332.50 207.25,333.24 208.01,333.94 208.77,334.62 209.53,335.28 210.30,335.91 211.06,336.53 211.82,337.12 212.58,337.69 213.35,338.24 214.11,338.77 214.87,339.28 215.63,339.78 216.40,340.26 217.16,340.73 217.92,341.18 218.68,341.61 219.45,342.03 220.21,342.44 220.97,342.83 221.73,343.22 222.50,343.59 223.26,343.95 224.02,344.30 224.78,344.64 225.55,344.96 226.31,345.28 227.07,345.59 227.83,345.89 228.60,346.19 229.36,346.47 230.12,346.75 230.88,347.01 231.65,347.27 232.41,347.53 233.17,347.78 233.93,348.02 234.70,348.25 235.46,348.48 236.22,348.70 236.98,348.92 237.75,349.13 238.51,349.33 239.27,349.53 240.04,349.73 240.80,349.92 241.56,350.10 242.32,350.28 243.09,350.46 243.85,350.63 244.61,350.80 245.37,350.96 246.14,351.12 246.90,351.28 247.66,351.43 248.42,351.58 249.19,351.73 249.95,351.87 250.71,352.01 251.47,352.15 252.24,352.28 253.00,352.41 253.76,352.54 254.52,352.67 255.29,352.79 256.05,352.91 256.81,353.03 257.57,353.14 258.34,353.25 259.10,353.37 259.86,353.47 260.62,353.58 261.39,353.68 262.15,353.78 262.91,353.88 263.67,353.98 264.44,354.08 265.20,354.17 265.96,354.26 266.72,354.35 267.49,354.44 268.25,354.53 269.01,354.61 269.77,354.70 270.54,354.78 271.30,354.86 272.06,354.94 272.82,355.02 273.59,355.09 274.35,355.17 275.11,355.24 275.87,355.31 276.64,355.39 277.40,355.45 278.16,355.52 278.92,355.59 279.69,355.66 280.45,355.72 281.21,355.79 281.97,355.85 282.74,355.91 283.50,355.97" stroke="#B177DE"/>
</g>
<rect x="55.5" y="272.6" width="228.0" height="93.29999999999995" fill="none" stroke="#262626" stroke-width="1.1"/>
<line x1="55.5" y1="365.9" x2="55.5" y2="363.5" stroke="#262626" stroke-width="1.0"/>
<line x1="55.5" y1="272.6" x2="55.5" y2="275" stroke="#262626" stroke-width="1.0"/>
<line x1="112.5" y1="365.9" x2="112.5" y2="363.5" stroke="#262626" stroke-width="1.0"/>
<line x1="112.5" y1="272.6" x2="112.5" y2="275" stroke="#262626" stroke-width="1.0"/>
<line x1="169.5" y1="365.9" x2="169.5" y2="363.5" stroke="#262626" stroke-width="1.0"/>
<line x1="169.5" y1="272.6" x2="169.5" y2="275" stroke="#262626" stroke-width="1.0"/>
<line x1="226.5" y1="365.9" x2="226.5" y2="363.5" stroke="#262626" stroke-width="1.0"/>
<line x1="226.5" y1="272.6" x2="226.5" y2="275" stroke="#262626" stroke-width="1.0"/>
<line x1="283.5" y1="365.9" x2="283.5" y2="363.5" stroke="#262626" stroke-width="1.0"/>
<line x1="283.5" y1="272.6" x2="283.5" y2="275" stroke="#262626" stroke-width="1.0"/>
<line x1="84" y1="365.9" x2="84" y2="364.5" stroke="#262626" stroke-width="1.0"/>
<line x1="84" y1="272.6" x2="84" y2="274" stroke="#262626" stroke-width="1.0"/>
<line x1="141" y1="365.9" x2="141" y2="364.5" stroke="#262626" stroke-width="1.0"/>
<line x1="141" y1="272.6" x2="141" y2="274" stroke="#262626" stroke-width="1.0"/>
<line x1="198" y1="365.9" x2="198" y2="364.5" stroke="#262626" stroke-width="1.0"/>
<line x1="198" y1="272.6" x2="198" y2="274" stroke="#262626" stroke-width="1.0"/>
<line x1="255" y1="365.9" x2="255" y2="364.5" stroke="#262626" stroke-width="1.0"/>
<line x1="255" y1="272.6" x2="255" y2="274" stroke="#262626" stroke-width="1.0"/>
<line x1="55.5" y1="365.9" x2="57.9" y2="365.9" stroke="#262626" stroke-width="1.0"/>
<line x1="55.5" y1="339.24" x2="57.9" y2="339.24" stroke="#262626" stroke-width="1.0"/>
<line x1="55.5" y1="312.59" x2="57.9" y2="312.59" stroke="#262626" stroke-width="1.0"/>
<line x1="55.5" y1="285.93" x2="57.9" y2="285.93" stroke="#262626" stroke-width="1.0"/>
<line x1="55.5" y1="352.57" x2="56.9" y2="352.57" stroke="#262626" stroke-width="1.0"/>
<line x1="55.5" y1="325.91" x2="56.9" y2="325.91" stroke="#262626" stroke-width="1.0"/>
<line x1="55.5" y1="299.26" x2="56.9" y2="299.26" stroke="#262626" stroke-width="1.0"/>
<line x1="55.5" y1="272.6" x2="56.9" y2="272.6" stroke="#262626" stroke-width="1.0"/>
<line x1="283.5" y1="365.9" x2="281.1" y2="365.9" stroke="#262626" stroke-width="1.0"/>
<line x1="283.5" y1="339.24" x2="281.1" y2="339.24" stroke="#262626" stroke-width="1.0"/>
<line x1="283.5" y1="312.59" x2="281.1" y2="312.59" stroke="#262626" stroke-width="1.0"/>
<line x1="283.5" y1="285.93" x2="281.1" y2="285.93" stroke="#262626" stroke-width="1.0"/>
<line x1="283.5" y1="352.57" x2="282.1" y2="352.57" stroke="#262626" stroke-width="1.0"/>
<line x1="283.5" y1="325.91" x2="282.1" y2="325.91" stroke="#262626" stroke-width="1.0"/>
<line x1="283.5" y1="299.26" x2="282.1" y2="299.26" stroke="#262626" stroke-width="1.0"/>
<line x1="283.5" y1="272.6" x2="282.1" y2="272.6" stroke="#262626" stroke-width="1.0"/>
<text x="52.4" y="370.1" font-size="13" text-anchor="end" fill="#000" >0.0</text>
<text x="52.4" y="343.44" font-size="13" text-anchor="end" fill="#000" >0.2</text>
<text x="52.4" y="316.79" font-size="13" text-anchor="end" fill="#000" >0.4</text>
<text x="52.4" y="290.13" font-size="13" text-anchor="end" fill="#000" >0.6</text>
<text x="55.5" y="379.4" font-size="13" text-anchor="middle" fill="#000" >525</text>
<text x="112.5" y="379.4" font-size="13" text-anchor="middle" fill="#000" >550</text>
<text x="169.5" y="379.4" font-size="13" text-anchor="middle" fill="#000" >575</text>
<text x="226.5" y="379.4" font-size="13" text-anchor="middle" fill="#000" >600</text>
<text x="283.5" y="379.4" font-size="13" text-anchor="middle" fill="#000" >625</text>
<text x="169.4" y="391.4" font-size="13.5" text-anchor="middle" fill="#000" >Wavelength (nm)</text>
<text x="29.5" y="316.1" font-size="13.5" text-anchor="middle" fill="#000" transform="rotate(-90 29.5 316.1)">Absorption</text>
<text x="4.2" y="275" font-size="13.5" text-anchor="start" fill="#000" >(c)</text>
<line x1="228.5" y1="283.5" x2="252.4" y2="283.5" stroke="#515151" stroke-width="1.5"/>
<text x="254.4" y="287.2" font-size="10.4" text-anchor="start" fill="#000" >C6</text>
<line x1="228.5" y1="296.15" x2="252.4" y2="296.15" stroke="#F14040" stroke-width="1.5"/>
<text x="254.4" y="299.85" font-size="10.4" text-anchor="start" fill="#000" >C7</text>
<line x1="228.5" y1="308.8" x2="252.4" y2="308.8" stroke="#1A6FDF" stroke-width="1.5"/>
<text x="254.4" y="312.5" font-size="10.4" text-anchor="start" fill="#000" >C8</text>
<line x1="228.5" y1="321.45" x2="252.4" y2="321.45" stroke="#37AD6B" stroke-width="1.5"/>
<text x="254.4" y="325.15" font-size="10.4" text-anchor="start" fill="#000" >C9</text>
<line x1="228.5" y1="334.1" x2="252.4" y2="334.1" stroke="#B177DE" stroke-width="1.5"/>
<text x="254.4" y="337.8" font-size="10.4" text-anchor="start" fill="#000" >C10</text>
<line x1="361.53" y1="81.87" x2="364.67" y2="79.1" stroke="#0000FF" stroke-width="1.5"/>
<line x1="374.58" y1="71.35" x2="427.52" y2="34.72" stroke="#0000FF" stroke-width="1.5"/>
<line x1="438.83" y1="29.7" x2="464.37" y2="23.72" stroke="#0000FF" stroke-width="1.5"/>
<line x1="476.79" y1="22.03" x2="540.11" y2="19.44" stroke="#0000FF" stroke-width="1.5"/>
<line x1="361.39" y1="91.28" x2="364.81" y2="87.52" stroke="#FF0000" stroke-width="1.5"/>
<line x1="375.08" y1="78.76" x2="426.82" y2="44.64" stroke="#FF0000" stroke-width="1.5"/>
<line x1="439.28" y1="40.33" x2="463.72" y2="38.27" stroke="#FF0000" stroke-width="1.5"/>
<line x1="477.3" y1="37.52" x2="539.6" y2="35.88" stroke="#FF0000" stroke-width="1.5"/>
<polygon points="351.3,89.3 362.3,89.3 356.8,79.5" fill="#0000FF"/>
<polygon points="363.9,78.2 374.9,78.2 369.4,68.4" fill="#0000FF"/>
<polygon points="427.2,34.4 438.2,34.4 432.7,24.6" fill="#0000FF"/>
<polygon points="465,25.55 476,25.55 470.5,15.75" fill="#0000FF"/>
<polygon points="540.9,22.45 551.9,22.45 546.4,12.65" fill="#0000FF"/>
<rect x="352.45" y="91.95" width="8.7" height="8.7" fill="#FF0000"/>
<rect x="365.05" y="78.15" width="8.7" height="8.7" fill="#FF0000"/>
<rect x="428.15" y="36.55" width="8.7" height="8.7" fill="#FF0000"/>
<rect x="466.15" y="33.35" width="8.7" height="8.7" fill="#FF0000"/>
<rect x="542.05" y="31.35" width="8.7" height="8.7" fill="#FF0000"/>
<line x1="337.9" y1="9.3" x2="565.4" y2="9.3" stroke="#262626" stroke-width="1.1"/>
<line x1="337.9" y1="102.6" x2="565.4" y2="102.6" stroke="#262626" stroke-width="1.1"/>
<line x1="337.9" y1="8.75" x2="337.9" y2="103.15" stroke="#262626" stroke-width="1.1"/>
<line x1="565.4" y1="8.75" x2="565.4" y2="103.15" stroke="#262626" stroke-width="1.1"/>
<line x1="356.86" y1="102.6" x2="356.86" y2="100.2" stroke="#262626" stroke-width="1.0"/>
<line x1="356.86" y1="9.3" x2="356.86" y2="11.7" stroke="#262626" stroke-width="1.0"/>
<line x1="394.77" y1="102.6" x2="394.77" y2="100.2" stroke="#262626" stroke-width="1.0"/>
<line x1="394.77" y1="9.3" x2="394.77" y2="11.7" stroke="#262626" stroke-width="1.0"/>
<line x1="432.69" y1="102.6" x2="432.69" y2="100.2" stroke="#262626" stroke-width="1.0"/>
<line x1="432.69" y1="9.3" x2="432.69" y2="11.7" stroke="#262626" stroke-width="1.0"/>
<line x1="470.61" y1="102.6" x2="470.61" y2="100.2" stroke="#262626" stroke-width="1.0"/>
<line x1="470.61" y1="9.3" x2="470.61" y2="11.7" stroke="#262626" stroke-width="1.0"/>
<line x1="508.52" y1="102.6" x2="508.52" y2="100.2" stroke="#262626" stroke-width="1.0"/>
<line x1="508.52" y1="9.3" x2="508.52" y2="11.7" stroke="#262626" stroke-width="1.0"/>
<line x1="546.44" y1="102.6" x2="546.44" y2="100.2" stroke="#262626" stroke-width="1.0"/>
<line x1="546.44" y1="9.3" x2="546.44" y2="11.7" stroke="#262626" stroke-width="1.0"/>
<line x1="375.82" y1="102.6" x2="375.82" y2="101.2" stroke="#262626" stroke-width="1.0"/>
<line x1="375.82" y1="9.3" x2="375.82" y2="10.7" stroke="#262626" stroke-width="1.0"/>
<line x1="413.73" y1="102.6" x2="413.73" y2="101.2" stroke="#262626" stroke-width="1.0"/>
<line x1="413.73" y1="9.3" x2="413.73" y2="10.7" stroke="#262626" stroke-width="1.0"/>
<line x1="451.65" y1="102.6" x2="451.65" y2="101.2" stroke="#262626" stroke-width="1.0"/>
<line x1="451.65" y1="9.3" x2="451.65" y2="10.7" stroke="#262626" stroke-width="1.0"/>
<line x1="489.57" y1="102.6" x2="489.57" y2="101.2" stroke="#262626" stroke-width="1.0"/>
<line x1="489.57" y1="9.3" x2="489.57" y2="10.7" stroke="#262626" stroke-width="1.0"/>
<line x1="527.48" y1="102.6" x2="527.48" y2="101.2" stroke="#262626" stroke-width="1.0"/>
<line x1="527.48" y1="9.3" x2="527.48" y2="10.7" stroke="#262626" stroke-width="1.0"/>
<text x="356.86" y="116.1" font-size="13" text-anchor="middle" fill="#000" >0.5</text>
<text x="394.77" y="116.1" font-size="13" text-anchor="middle" fill="#000" >1.0</text>
<text x="432.69" y="116.1" font-size="13" text-anchor="middle" fill="#000" >1.5</text>
<text x="470.61" y="116.1" font-size="13" text-anchor="middle" fill="#000" >2.0</text>
<text x="508.52" y="116.1" font-size="13" text-anchor="middle" fill="#000" >2.5</text>
<text x="546.44" y="116.1" font-size="13" text-anchor="middle" fill="#000" >3.0</text>
<text x="454.5" y="131" font-size="18.7" text-anchor="middle" fill="#000" >&#916;t</text>
<line x1="359.75" y1="221.96" x2="366.55" y2="209.1" stroke="#0000FF" stroke-width="1.5"/>
<line x1="375.68" y1="202.33" x2="426.32" y2="192.44" stroke="#0000FF" stroke-width="1.5"/>
<line x1="437.34" y1="187.2" x2="465.76" y2="163.47" stroke="#0000FF" stroke-width="1.5"/>
<line x1="476.85" y1="158.61" x2="540.15" y2="150.26" stroke="#0000FF" stroke-width="1.5"/>
<line x1="358.45" y1="156.47" x2="367.75" y2="191.33" stroke="#FF0000" stroke-width="1.5"/>
<line x1="375.8" y1="200.46" x2="426.2" y2="220.94" stroke="#FF0000" stroke-width="1.5"/>
<line x1="439.29" y1="223.93" x2="463.71" y2="225.47" stroke="#FF0000" stroke-width="1.5"/>
<line x1="477.3" y1="225.9" x2="539.6" y2="225.9" stroke="#FF0000" stroke-width="1.5"/>
<polygon points="351.3,230.8 362.3,230.8 356.8,221" fill="#0000FF"/>
<polygon points="364,206.8 375,206.8 369.5,197" fill="#0000FF"/>
<polygon points="427,194.5 438,194.5 432.5,184.7" fill="#0000FF"/>
<polygon points="465.1,162.7 476.1,162.7 470.6,152.9" fill="#0000FF"/>
<polygon points="540.9,152.7 551.9,152.7 546.4,142.9" fill="#0000FF"/>
<rect x="352.35" y="145.55" width="8.7" height="8.7" fill="#FF0000"/>
<rect x="365.15" y="193.55" width="8.7" height="8.7" fill="#FF0000"/>
<rect x="428.15" y="219.15" width="8.7" height="8.7" fill="#FF0000"/>
<rect x="466.15" y="221.55" width="8.7" height="8.7" fill="#FF0000"/>
<rect x="542.05" y="221.55" width="8.7" height="8.7" fill="#FF0000"/>
<line x1="337.9" y1="140.95" x2="565.4" y2="140.95" stroke="#262626" stroke-width="1.1"/>
<line x1="337.9" y1="234.25" x2="565.4" y2="234.25" stroke="#262626" stroke-width="1.1"/>
<line x1="337.9" y1="140.4" x2="337.9" y2="234.8" stroke="#0000FF" stroke-width="1.1"/>
<line x1="565.4" y1="140.4" x2="565.4" y2="234.8" stroke="#FF0000" stroke-width="1.1"/>
<line x1="356.86" y1="234.25" x2="356.86" y2="231.85" stroke="#262626" stroke-width="1.0"/>
<line x1="356.86" y1="140.95" x2="356.86" y2="143.35" stroke="#262626" stroke-width="1.0"/>
<line x1="394.77" y1="234.25" x2="394.77" y2="231.85" stroke="#262626" stroke-width="1.0"/>
<line x1="394.77" y1="140.95" x2="394.77" y2="143.35" stroke="#262626" stroke-width="1.0"/>
<line x1="432.69" y1="234.25" x2="432.69" y2="231.85" stroke="#262626" stroke-width="1.0"/>
<line x1="432.69" y1="140.95" x2="432.69" y2="143.35" stroke="#262626" stroke-width="1.0"/>
<line x1="470.61" y1="234.25" x2="470.61" y2="231.85" stroke="#262626" stroke-width="1.0"/>
<line x1="470.61" y1="140.95" x2="470.61" y2="143.35" stroke="#262626" stroke-width="1.0"/>
<line x1="508.52" y1="234.25" x2="508.52" y2="231.85" stroke="#262626" stroke-width="1.0"/>
<line x1="508.52" y1="140.95" x2="508.52" y2="143.35" stroke="#262626" stroke-width="1.0"/>
<line x1="546.44" y1="234.25" x2="546.44" y2="231.85" stroke="#262626" stroke-width="1.0"/>
<line x1="546.44" y1="140.95" x2="546.44" y2="143.35" stroke="#262626" stroke-width="1.0"/>
<line x1="375.82" y1="234.25" x2="375.82" y2="232.85" stroke="#262626" stroke-width="1.0"/>
<line x1="375.82" y1="140.95" x2="375.82" y2="142.35" stroke="#262626" stroke-width="1.0"/>
<line x1="413.73" y1="234.25" x2="413.73" y2="232.85" stroke="#262626" stroke-width="1.0"/>
<line x1="413.73" y1="140.95" x2="413.73" y2="142.35" stroke="#262626" stroke-width="1.0"/>
<line x1="451.65" y1="234.25" x2="451.65" y2="232.85" stroke="#262626" stroke-width="1.0"/>
<line x1="451.65" y1="140.95" x2="451.65" y2="142.35" stroke="#262626" stroke-width="1.0"/>
<line x1="489.57" y1="234.25" x2="489.57" y2="232.85" stroke="#262626" stroke-width="1.0"/>
<line x1="489.57" y1="140.95" x2="489.57" y2="142.35" stroke="#262626" stroke-width="1.0"/>
<line x1="527.48" y1="234.25" x2="527.48" y2="232.85" stroke="#262626" stroke-width="1.0"/>
<line x1="527.48" y1="140.95" x2="527.48" y2="142.35" stroke="#262626" stroke-width="1.0"/>
<text x="356.86" y="247.75" font-size="13" text-anchor="middle" fill="#000" >0.5</text>
<text x="394.77" y="247.75" font-size="13" text-anchor="middle" fill="#000" >1.0</text>
<text x="432.69" y="247.75" font-size="13" text-anchor="middle" fill="#000" >1.5</text>
<text x="470.61" y="247.75" font-size="13" text-anchor="middle" fill="#000" >2.0</text>
<text x="508.52" y="247.75" font-size="13" text-anchor="middle" fill="#000" >2.5</text>
<text x="546.44" y="247.75" font-size="13" text-anchor="middle" fill="#000" >3.0</text>
<text x="454.5" y="262.65" font-size="18.7" text-anchor="middle" fill="#000" >&#916;t</text>
<line x1="359.65" y1="348.38" x2="366.45" y2="336.59" stroke="#0000FF" stroke-width="1.5"/>
<line x1="375.37" y1="328.6" x2="427.03" y2="305.96" stroke="#0000FF" stroke-width="1.5"/>
<line x1="438.47" y1="300.68" x2="464.83" y2="287.88" stroke="#0000FF" stroke-width="1.5"/>
<line x1="476.78" y1="284.68" x2="540.12" y2="280.09" stroke="#0000FF" stroke-width="1.5"/>
<line x1="374.86" y1="354.35" x2="427.14" y2="315.55" stroke="#FF0000" stroke-width="1.5"/>
<line x1="438.51" y1="308.14" x2="464.59" y2="293.36" stroke="#FF0000" stroke-width="1.5"/>
<line x1="477.26" y1="289.26" x2="539.64" y2="282.44" stroke="#FF0000" stroke-width="1.5"/>
<polygon points="351,357.1 362,357.1 356.5,347.3" fill="#0000FF"/>
<polygon points="364.1,334.4 375.1,334.4 369.6,324.6" fill="#0000FF"/>
<polygon points="427.3,306.7 438.3,306.7 432.8,296.9" fill="#0000FF"/>
<polygon points="465,288.4 476,288.4 470.5,278.6" fill="#0000FF"/>
<polygon points="540.9,282.9 551.9,282.9 546.4,273.1" fill="#0000FF"/>
<rect x="352.25" y="355.45" width="8.7" height="8.7" fill="#FF0000"/>
<rect x="365.05" y="354.05" width="8.7" height="8.7" fill="#FF0000"/>
<rect x="428.25" y="307.15" width="8.7" height="8.7" fill="#FF0000"/>
<rect x="466.15" y="285.65" width="8.7" height="8.7" fill="#FF0000"/>
<rect x="542.05" y="277.35" width="8.7" height="8.7" fill="#FF0000"/>
<line x1="337.9" y1="272.6" x2="565.4" y2="272.6" stroke="#262626" stroke-width="1.1"/>
<line x1="337.9" y1="365.9" x2="565.4" y2="365.9" stroke="#262626" stroke-width="1.1"/>
<line x1="337.9" y1="272.05" x2="337.9" y2="366.45" stroke="#0000FF" stroke-width="1.1"/>
<line x1="565.4" y1="272.05" x2="565.4" y2="366.45" stroke="#FF0000" stroke-width="1.1"/>
<line x1="356.86" y1="365.9" x2="356.86" y2="363.5" stroke="#262626" stroke-width="1.0"/>
<line x1="356.86" y1="272.6" x2="356.86" y2="275" stroke="#262626" stroke-width="1.0"/>
<line x1="394.77" y1="365.9" x2="394.77" y2="363.5" stroke="#262626" stroke-width="1.0"/>
<line x1="394.77" y1="272.6" x2="394.77" y2="275" stroke="#262626" stroke-width="1.0"/>
<line x1="432.69" y1="365.9" x2="432.69" y2="363.5" stroke="#262626" stroke-width="1.0"/>
<line x1="432.69" y1="272.6" x2="432.69" y2="275" stroke="#262626" stroke-width="1.0"/>
<line x1="470.61" y1="365.9" x2="470.61" y2="363.5" stroke="#262626" stroke-width="1.0"/>
<line x1="470.61" y1="272.6" x2="470.61" y2="275" stroke="#262626" stroke-width="1.0"/>
<line x1="508.52" y1="365.9" x2="508.52" y2="363.5" stroke="#262626" stroke-width="1.0"/>
<line x1="508.52" y1="272.6" x2="508.52" y2="275" stroke="#262626" stroke-width="1.0"/>
<line x1="546.44" y1="365.9" x2="546.44" y2="363.5" stroke="#262626" stroke-width="1.0"/>
<line x1="546.44" y1="272.6" x2="546.44" y2="275" stroke="#262626" stroke-width="1.0"/>
<line x1="375.82" y1="365.9" x2="375.82" y2="364.5" stroke="#262626" stroke-width="1.0"/>
<line x1="375.82" y1="272.6" x2="375.82" y2="274" stroke="#262626" stroke-width="1.0"/>
<line x1="413.73" y1="365.9" x2="413.73" y2="364.5" stroke="#262626" stroke-width="1.0"/>
<line x1="413.73" y1="272.6" x2="413.73" y2="274" stroke="#262626" stroke-width="1.0"/>
<line x1="451.65" y1="365.9" x2="451.65" y2="364.5" stroke="#262626" stroke-width="1.0"/>
<line x1="451.65" y1="272.6" x2="451.65" y2="274" stroke="#262626" stroke-width="1.0"/>
<line x1="489.57" y1="365.9" x2="489.57" y2="364.5" stroke="#262626" stroke-width="1.0"/>
<line x1="489.57" y1="272.6" x2="489.57" y2="274" stroke="#262626" stroke-width="1.0"/>
<line x1="527.48" y1="365.9" x2="527.48" y2="364.5" stroke="#262626" stroke-width="1.0"/>
<line x1="527.48" y1="272.6" x2="527.48" y2="274" stroke="#262626" stroke-width="1.0"/>
<text x="356.86" y="379.4" font-size="13" text-anchor="middle" fill="#000" >0.5</text>
<text x="394.77" y="379.4" font-size="13" text-anchor="middle" fill="#000" >1.0</text>
<text x="432.69" y="379.4" font-size="13" text-anchor="middle" fill="#000" >1.5</text>
<text x="470.61" y="379.4" font-size="13" text-anchor="middle" fill="#000" >2.0</text>
<text x="508.52" y="379.4" font-size="13" text-anchor="middle" fill="#000" >2.5</text>
<text x="546.44" y="379.4" font-size="13" text-anchor="middle" fill="#000" >3.0</text>
<text x="454.5" y="394.3" font-size="18.7" text-anchor="middle" fill="#000" >&#916;t</text>
<line x1="337.9" y1="93.27" x2="340.3" y2="93.27" stroke="#262626" stroke-width="1.0"/>
<line x1="337.9" y1="74.61" x2="340.3" y2="74.61" stroke="#262626" stroke-width="1.0"/>
<line x1="337.9" y1="55.95" x2="340.3" y2="55.95" stroke="#262626" stroke-width="1.0"/>
<line x1="337.9" y1="37.29" x2="340.3" y2="37.29" stroke="#262626" stroke-width="1.0"/>
<line x1="337.9" y1="18.63" x2="340.3" y2="18.63" stroke="#262626" stroke-width="1.0"/>
<line x1="337.9" y1="83.94" x2="339.3" y2="83.94" stroke="#262626" stroke-width="1.0"/>
<line x1="337.9" y1="65.28" x2="339.3" y2="65.28" stroke="#262626" stroke-width="1.0"/>
<line x1="337.9" y1="46.62" x2="339.3" y2="46.62" stroke="#262626" stroke-width="1.0"/>
<line x1="337.9" y1="27.96" x2="339.3" y2="27.96" stroke="#262626" stroke-width="1.0"/>
<line x1="565.4" y1="93.27" x2="563" y2="93.27" stroke="#262626" stroke-width="1.0"/>
<line x1="565.4" y1="74.61" x2="563" y2="74.61" stroke="#262626" stroke-width="1.0"/>
<line x1="565.4" y1="55.95" x2="563" y2="55.95" stroke="#262626" stroke-width="1.0"/>
<line x1="565.4" y1="37.29" x2="563" y2="37.29" stroke="#262626" stroke-width="1.0"/>
<line x1="565.4" y1="18.63" x2="563" y2="18.63" stroke="#262626" stroke-width="1.0"/>
<line x1="565.4" y1="83.94" x2="564" y2="83.94" stroke="#262626" stroke-width="1.0"/>
<line x1="565.4" y1="65.28" x2="564" y2="65.28" stroke="#262626" stroke-width="1.0"/>
<line x1="565.4" y1="46.62" x2="564" y2="46.62" stroke="#262626" stroke-width="1.0"/>
<line x1="565.4" y1="27.96" x2="564" y2="27.96" stroke="#262626" stroke-width="1.0"/>
<text x="334.9" y="97.17" font-size="13" text-anchor="end" fill="#000" >4</text>
<text x="334.9" y="78.51" font-size="13" text-anchor="end" fill="#000" >8</text>
<text x="334.9" y="59.85" font-size="13" text-anchor="end" fill="#000" >12</text>
<text x="334.9" y="41.19" font-size="13" text-anchor="end" fill="#000" >16</text>
<text x="334.9" y="22.53" font-size="13" text-anchor="end" fill="#000" >20</text>
<text x="314.6" y="55.2" font-size="12.8" text-anchor="middle" fill="#000" transform="rotate(-90 314.6 55.2)">Spectral Overlap</text>
<text x="287.9" y="10.2" font-size="13.5" text-anchor="start" fill="#000" >(d)</text>
<line x1="507.6" y1="62.7" x2="538.6" y2="62.7" stroke="#0000FF" stroke-width="1.5"/>
<polygon points="517.8,66.5 528.8,66.5 523.3,56.7" fill="#0000FF"/>
<line x1="507.6" y1="84" x2="538.6" y2="84" stroke="#FF0000" stroke-width="1.5"/>
<rect x="519.05" y="79.75" width="8.5" height="8.5" fill="#FF0000"/>
<text x="541.5" y="67.6" font-size="13" text-anchor="start" fill="#000" >&#934;<tspan font-size="10" dx="0.8" dy="3.7">A</tspan></text>
<text x="541.5" y="88.6" font-size="13" text-anchor="start" fill="#000" >&#934;<tspan font-size="10" dx="0.8" dy="3.9">E</tspan></text>
<line x1="337.9" y1="227.07" x2="340.3" y2="227.07" stroke="#0000FF" stroke-width="1.0"/>
<line x1="337.9" y1="205.54" x2="340.3" y2="205.54" stroke="#0000FF" stroke-width="1.0"/>
<line x1="337.9" y1="184.01" x2="340.3" y2="184.01" stroke="#0000FF" stroke-width="1.0"/>
<line x1="337.9" y1="162.48" x2="340.3" y2="162.48" stroke="#0000FF" stroke-width="1.0"/>
<line x1="337.9" y1="140.95" x2="340.3" y2="140.95" stroke="#0000FF" stroke-width="1.0"/>
<line x1="337.9" y1="216.31" x2="339.3" y2="216.31" stroke="#0000FF" stroke-width="1.0"/>
<line x1="337.9" y1="194.78" x2="339.3" y2="194.78" stroke="#0000FF" stroke-width="1.0"/>
<line x1="337.9" y1="173.25" x2="339.3" y2="173.25" stroke="#0000FF" stroke-width="1.0"/>
<line x1="337.9" y1="151.72" x2="339.3" y2="151.72" stroke="#0000FF" stroke-width="1.0"/>
<line x1="565.4" y1="218.7" x2="563" y2="218.7" stroke="#FF0000" stroke-width="1.0"/>
<line x1="565.4" y1="187.6" x2="563" y2="187.6" stroke="#FF0000" stroke-width="1.0"/>
<line x1="565.4" y1="156.5" x2="563" y2="156.5" stroke="#FF0000" stroke-width="1.0"/>
<line x1="565.4" y1="203.15" x2="564" y2="203.15" stroke="#FF0000" stroke-width="1.0"/>
<line x1="565.4" y1="172.05" x2="564" y2="172.05" stroke="#FF0000" stroke-width="1.0"/>
<text x="334.6" y="230.87" font-size="13" text-anchor="end" fill="#0000FF" >18</text>
<text x="334.6" y="209.34" font-size="13" text-anchor="end" fill="#0000FF" >21</text>
<text x="334.6" y="187.81" font-size="13" text-anchor="end" fill="#0000FF" >24</text>
<text x="334.6" y="166.28" font-size="13" text-anchor="end" fill="#0000FF" >27</text>
<text x="334.6" y="144.75" font-size="13" text-anchor="end" fill="#0000FF" >30</text>
<text x="568" y="222.55" font-size="13" text-anchor="start" fill="#FF0000" >2</text>
<text x="568" y="191.45" font-size="13" text-anchor="start" fill="#FF0000" >3</text>
<text x="568" y="160.35" font-size="13" text-anchor="start" fill="#FF0000" >4</text>
<text x="314.2" y="186.9" font-size="13.5" text-anchor="middle" fill="#0000FF" transform="rotate(-90 314.2 186.9)">Q Factor</text>
<text x="589.5" y="186.5" font-size="13.5" text-anchor="middle" fill="#FF0000" transform="rotate(-90 589.5 186.5)">V<tspan font-size="9.2" dy="3.5">m</tspan><tspan dy="-3.5"> (x 10</tspan><tspan font-size="9.2" dy="-5">3</tspan><tspan dy="5"> nm</tspan><tspan font-size="9.2" dy="-5">3</tspan><tspan dy="5">)</tspan></text>
<text x="292" y="134.8" font-size="13.5" text-anchor="start" fill="#000" >(e)</text>
<line x1="337.9" y1="358.72" x2="340.3" y2="358.72" stroke="#0000FF" stroke-width="1.0"/>
<line x1="337.9" y1="337.19" x2="340.3" y2="337.19" stroke="#0000FF" stroke-width="1.0"/>
<line x1="337.9" y1="315.66" x2="340.3" y2="315.66" stroke="#0000FF" stroke-width="1.0"/>
<line x1="337.9" y1="294.13" x2="340.3" y2="294.13" stroke="#0000FF" stroke-width="1.0"/>
<line x1="337.9" y1="272.6" x2="340.3" y2="272.6" stroke="#0000FF" stroke-width="1.0"/>
<line x1="337.9" y1="347.96" x2="339.3" y2="347.96" stroke="#0000FF" stroke-width="1.0"/>
<line x1="337.9" y1="326.43" x2="339.3" y2="326.43" stroke="#0000FF" stroke-width="1.0"/>
<line x1="337.9" y1="304.9" x2="339.3" y2="304.9" stroke="#0000FF" stroke-width="1.0"/>
<line x1="337.9" y1="283.37" x2="339.3" y2="283.37" stroke="#0000FF" stroke-width="1.0"/>
<line x1="565.4" y1="360.07" x2="563" y2="360.07" stroke="#FF0000" stroke-width="1.0"/>
<line x1="565.4" y1="330.91" x2="563" y2="330.91" stroke="#FF0000" stroke-width="1.0"/>
<line x1="565.4" y1="301.76" x2="563" y2="301.76" stroke="#FF0000" stroke-width="1.0"/>
<line x1="565.4" y1="272.6" x2="563" y2="272.6" stroke="#FF0000" stroke-width="1.0"/>
<line x1="565.4" y1="345.49" x2="564" y2="345.49" stroke="#FF0000" stroke-width="1.0"/>
<line x1="565.4" y1="316.33" x2="564" y2="316.33" stroke="#FF0000" stroke-width="1.0"/>
<line x1="565.4" y1="287.18" x2="564" y2="287.18" stroke="#FF0000" stroke-width="1.0"/>
<text x="334.6" y="362.32" font-size="13" text-anchor="end" fill="#0000FF" >15</text>
<text x="334.6" y="340.79" font-size="13" text-anchor="end" fill="#0000FF" >30</text>
<text x="334.6" y="319.26" font-size="13" text-anchor="end" fill="#0000FF" >45</text>
<text x="334.6" y="297.73" font-size="13" text-anchor="end" fill="#0000FF" >60</text>
<text x="334.6" y="276.2" font-size="13" text-anchor="end" fill="#0000FF" >75</text>
<text x="568" y="363.92" font-size="13" text-anchor="start" fill="#FF0000" >0</text>
<text x="568" y="334.76" font-size="13" text-anchor="start" fill="#FF0000" >10</text>
<text x="568" y="305.61" font-size="13" text-anchor="start" fill="#FF0000" >20</text>
<text x="568" y="276.45" font-size="13" text-anchor="start" fill="#FF0000" >30</text>
<text x="312.2" y="315.5" font-size="13.5" text-anchor="middle" fill="#0000FF" transform="rotate(-90 312.2 315.5)">F<tspan font-size="9.2" dy="3.5">P</tspan><tspan dy="-3.5"> (x 10</tspan><tspan font-size="9.2" dy="-5">3</tspan><tspan dy="5">)</tspan></text>
<text x="598.6" y="318.7" font-size="13.5" text-anchor="middle" fill="#FF0000" transform="rotate(-90 598.6 318.7)">I<tspan font-size="9.2" dy="3.5">FL</tspan><tspan dy="-3.5"> (x 10</tspan><tspan font-size="9.2" dy="-5">5</tspan><tspan dy="5">)</tspan></text>
<text x="295.7" y="275" font-size="13.5" text-anchor="start" fill="#000" >(f)</text>
</svg>
</body></html>
